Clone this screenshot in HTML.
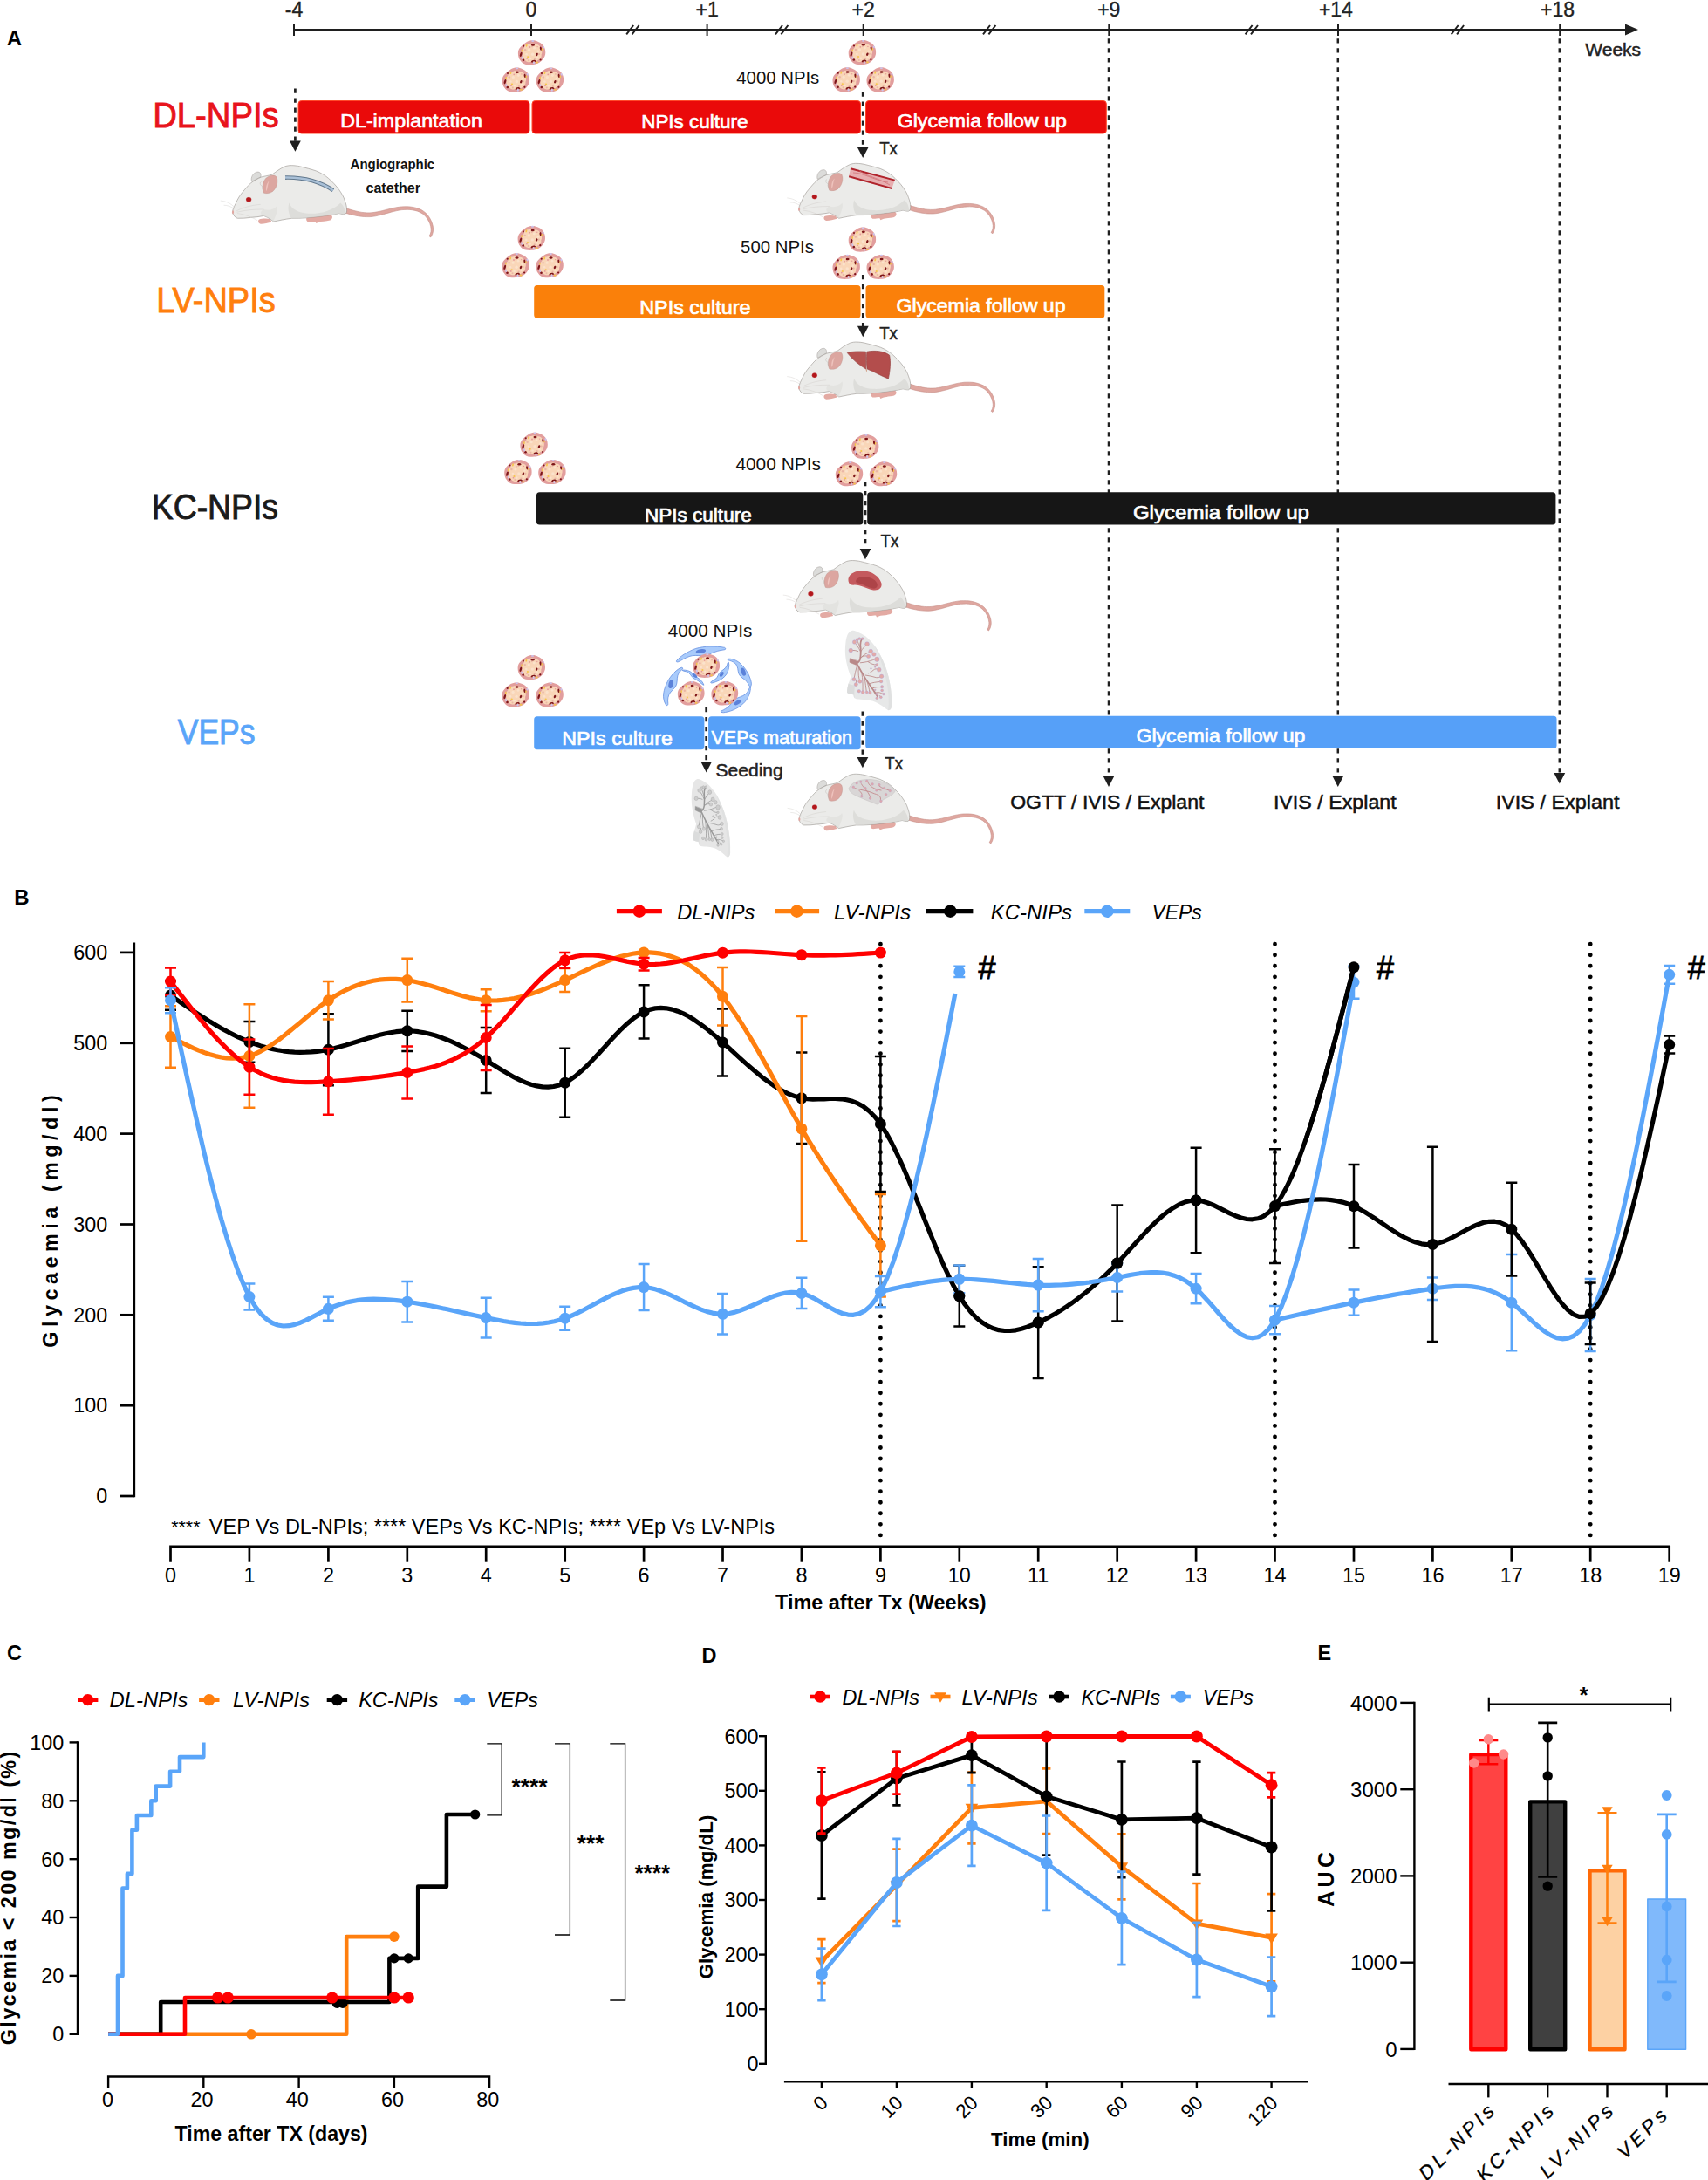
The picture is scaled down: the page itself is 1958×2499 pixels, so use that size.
<!DOCTYPE html>
<html lang="en"><head><meta charset="utf-8"><title>Figure</title>
<style>html,body{margin:0;padding:0;background:#fff}svg{display:block}text{font-family:"Liberation Sans",Arial,Helvetica,sans-serif}.lw{font-weight:bold}.md{stroke:currentColor;stroke-width:0.45px}</style></head><body>
<svg width="1958" height="2499" viewBox="0 0 1958 2499">
<rect width="1958" height="2499" fill="#fff"/>
<defs>
<g id="islet">
<path d="M1.2 -14C-1.5 -14 -3.8 -13.4 -5.6 -12.3C-8.5 -10.6 -11.5 -8 -13.1 -6C-15 -4 -15.8 -1.5 -15.7 1C-15.6 4.5 -14.8 7 -13.1 9C-11.5 11.5 -9.5 13 -6.6 13.7C-4 14.2 -0.5 14.1 1.9 13.9C5.5 13.5 8.3 12.4 10.3 10.4C13 8 14.8 5.5 15.5 2.4C16 -0.5 15.6 -3.5 14.5 -6C13.2 -9 10.5 -11 7.5 -12.3C5.5 -13.4 3.5 -14 1.2 -14Z" fill="#e29e9d"/>
<path d="M-10.8 1.5C-11.6 -2 -10 -4 -8.6 -5.5C-8.8 -8 -6 -9.6 -3.4 -9.6C-1 -11 2.5 -10.6 4 -9.4C7 -9.8 9.6 -7.6 10.2 -5C12 -3 12.2 0.5 11 2.6C11.6 5.5 9.6 8 7.2 8.6C5.5 10.8 2 11.4 0 10.6C-2.6 11.6 -6 11 -7.4 9C-9.8 8.2 -11.4 5 -10.8 1.5Z" fill="#f9d6b8"/>
<g fill="#fbe2cb"><circle cx="-3" cy="-3" r="1.6"/><circle cx="3" cy="-5" r="1.4"/><circle cx="1" cy="2" r="1.7"/><circle cx="-6" cy="2" r="1.3"/><circle cx="6.5" cy="5.5" r="1.3"/><circle cx="-1.5" cy="6.8" r="1.2"/><circle cx="7.4" cy="-1.4" r="1.2"/></g>
<g fill="#eab6a6"><circle cx="-7.5" cy="-3" r="1.2"/><circle cx="8.5" cy="1.8" r="1.1"/><circle cx="3.5" cy="7.5" r="1.1"/><circle cx="-3.6" cy="9" r="1"/><circle cx="0.4" cy="-7" r="1"/></g>
<g fill="#7d1418"><ellipse cx="1.4" cy="-8.8" rx="2" ry="1.25"/><circle cx="-9.4" cy="-7.5" r="1.05"/><ellipse cx="10.3" cy="-4.6" rx="1.05" ry="2.2" transform="rotate(-10 10.3 -4.6)"/><ellipse cx="-12.4" cy="2.2" rx="1.15" ry="2.8" transform="rotate(18 -12.4 2.2)"/><ellipse cx="5.9" cy="2.2" rx="1.15" ry="1.8" transform="rotate(25 5.9 2.2)"/><circle cx="-9.6" cy="8.5" r="1.3"/><circle cx="10" cy="8.3" r="1.1"/><path d="M-0.8 11C-0.2 8 4.7 7.8 5.2 10.2L3.6 10.7C3 9.6 1.6 9.7 1 11.5Z"/></g>
<g fill="#f6c64a"><ellipse cx="-5.9" cy="-8.1" rx="0.9" ry="1.7" transform="rotate(15 -5.9 -8.1)"/><ellipse cx="-11.2" cy="-2.2" rx="0.8" ry="1.6"/><ellipse cx="-4.4" cy="5" rx="1.1" ry="1" /><ellipse cx="11.9" cy="-3.6" rx="0.7" ry="1.4"/><ellipse cx="6.1" cy="11.3" rx="1.3" ry="1"/></g>
<g fill="#cdc5ee"><ellipse cx="1.2" cy="-13.2" rx="1.6" ry="0.9"/><ellipse cx="13.4" cy="-6.2" rx="0.9" ry="1.5" transform="rotate(-30 13.4 -6.2)"/><ellipse cx="-11" cy="6.2" rx="0.9" ry="1.6" transform="rotate(-20 -11 6.2)"/><ellipse cx="2.4" cy="11.9" rx="1" ry="1.3"/></g>
<g fill="#e59a9c"><circle cx="-2.1" cy="-6.2" r="0.9"/><circle cx="-5.4" cy="6.7" r="0.9"/><circle cx="6.5" cy="-6.6" r="0.7"/></g>
</g>
<g id="islets3"><use href="#islet" x="-1.2" y="-31.3"/><use href="#islet" x="-19.4" y="0"/><use href="#islet" x="19.6" y="0"/></g>
<path id="ah" d="M0 0L-6.4 -12.4H6.4Z" fill="#1f1f1f"/>
<g id="mouse">
<path d="M395.5 244.1L398.5 244.9L401.6 245.8L404.7 246.5L407.9 247.2L411.1 247.8L414.3 248.2L417.5 248.5L420.8 248.6L424.1 248.6L427.3 248.3L430.5 247.8L433.7 247.1L436.8 246.4L439.9 245.6L442.9 244.7L445.9 243.9L448.9 243L451.9 242.3L454.9 241.6L457.9 241L460.9 240.6L463.9 240.4L466.9 240.3L469.9 240.4L472.9 240.8L475.9 241.4L478.8 242.2L481.6 243.4L484.1 244.8L486.4 246.6L488.4 248.8L490.2 251.2L491.6 253.8L492.9 256.6L493.7 259.5L494.2 262.4L494.1 265.2L493.4 268L492 270.7L493.8 271.9L495.5 268.8L496.4 265.6L496.6 262.3L496.2 259L495.3 255.8L494.1 252.7L492.5 249.7L490.6 247L488.4 244.5L485.8 242.4L483 240.6L479.9 239.3L476.7 238.2L473.5 237.5L470.3 237L467 236.8L463.8 236.8L460.5 236.9L457.3 237.3L454.2 237.8L451.1 238.4L448 239.2L444.9 239.9L441.8 240.7L438.8 241.5L435.8 242.2L432.8 242.8L429.8 243.3L426.8 243.7L423.9 243.9L420.9 243.9L417.9 243.7L414.9 243.4L411.9 242.9L408.9 242.2L405.9 241.5L403 240.7L400 239.8L397.1 238.9Z" fill="#dfa7a0" stroke="#c58d86" stroke-width="0.6"/>
<g transform="translate(250 180) scale(0.093677)">
<path d="M412 300C395 250 430 190 480 183C515 180 530 205 522 245Z" fill="#dcdcda" stroke="#a8a4a0" stroke-width="6"/>
<path d="M1085 740C1150 720 1300 700 1370 705C1410 715 1405 760 1370 775C1320 790 1260 785 1225 800L1200 812L1190 790C1160 790 1120 800 1100 795C1080 780 1075 760 1085 740Z" fill="#e3aaa3"/>
<path d="M500 765C540 750 600 750 640 760L655 795C610 805 560 822 520 820C490 810 485 780 500 765Z" fill="#e3aaa3"/>
<path d="M180 690C170 660 190 620 215 570C240 510 270 465 300 430C330 395 365 350 400 320C440 290 480 265 530 245C580 232 620 228 660 215C710 180 760 140 820 115C850 105 880 102 900 103C940 104 970 108 1000 115C1070 132 1140 150 1200 170C1260 195 1310 225 1350 260C1400 305 1445 350 1480 400C1515 450 1538 490 1550 530C1565 570 1575 610 1575 640C1578 670 1570 690 1555 700C1530 705 1505 695 1480 690C1440 700 1410 705 1380 710C1280 725 1180 738 1080 745C1020 750 960 750 900 750C820 760 740 778 680 790C665 780 652 770 640 760C615 745 590 730 560 720C505 730 455 738 400 740C345 748 290 752 240 750C215 745 195 725 180 690Z" fill="#ebebe9" stroke="#8f8a85" stroke-width="6"/>
<path d="M870 560C900 640 980 680 1100 690C1250 700 1400 660 1500 560C1540 600 1560 650 1555 695C1530 705 1505 695 1480 690C1300 725 1080 745 900 750C860 700 850 620 870 560Z" fill="#d9d9d6" opacity="0.8"/>
<path d="M560 640C620 660 690 640 720 600C740 650 700 720 680 785C640 755 600 730 560 720C500 700 520 660 560 640Z" fill="#dededb" opacity="0.6"/>
<path d="M182 700C165 690 165 660 185 652C195 665 198 690 182 700Z" fill="#e2a8a2"/>
<path d="M205 620C150 560 90 540 30 535M200 635C150 600 110 590 70 590M225 660C300 620 400 590 520 580M230 675C330 650 430 640 560 640M235 690C330 700 420 740 480 775" fill="none" stroke="#c9c6c2" stroke-width="4"/>
<path d="M560 440C535 390 540 310 585 260C625 225 690 210 715 245C740 300 715 380 670 420C640 445 590 450 560 440Z" fill="#dca6a0" stroke="#b98c86" stroke-width="4"/>
<path d="M590 420C580 370 595 320 625 290C605 340 610 380 590 420Z" fill="#eec3bd"/>
<path d="M530 300C500 320 520 350 545 360C535 380 545 400 560 410" fill="none" stroke="#b0aba6" stroke-width="4"/>
<ellipse cx="375" cy="520" rx="33" ry="29" fill="#b3171c"/><ellipse cx="375" cy="520" rx="33" ry="29" fill="none" stroke="#d98c8c" stroke-width="4" opacity="0.6"/>
</g></g>
</defs>
<g id="mice">
<g transform="translate(950 715) scale(0.05269 0.05269)" opacity="0.92">
<path d="M500 150C530 140 560 145 600 165C680 200 750 235 800 270C880 340 950 410 1000 480C1070 580 1130 690 1180 800C1230 910 1270 1030 1300 1150C1330 1270 1350 1390 1360 1500C1370 1600 1375 1700 1370 1800C1360 1860 1330 1890 1290 1880C1240 1850 1200 1810 1150 1780C1090 1740 1020 1700 950 1680C880 1660 810 1655 750 1650C680 1648 610 1650 560 1620C545 1590 545 1560 540 1540C490 1540 430 1530 400 1500C395 1430 415 1360 430 1300C450 1250 470 1200 480 1150C450 1070 420 990 400 900C380 820 365 730 360 650C355 560 360 480 370 400C380 330 395 270 420 220C440 185 470 160 500 150Z" fill="#e6e7e7"/>
<path d="M430 1300C470 1330 530 1340 580 1330C560 1400 555 1470 560 1620C545 1590 545 1560 540 1540C490 1540 430 1530 400 1500C395 1430 415 1360 430 1300Z" fill="#d9dada"/>
<path d="M1000 480C1070 580 1130 690 1180 800C1230 910 1270 1030 1300 1150C1330 1270 1350 1390 1360 1500C1370 1600 1375 1700 1370 1800C1360 1860 1330 1890 1290 1880C1320 1700 1300 1400 1220 1100C1170 900 1100 700 1000 480Z" fill="#dcdddd" opacity="0.8"/>
<g fill="none" stroke="#b47f7f" stroke-linecap="round" stroke-linejoin="round">
<path d="M460 760L455 840L600 900L650 820Z" fill="#b47f7f" stroke-width="10"/>
<path d="M600 860C650 850 680 800 690 740C700 640 700 560 690 480C685 420 700 370 720 330M620 880C680 990 730 1080 780 1160C830 1240 900 1340 960 1430C1000 1490 1030 1530 1060 1580" stroke-width="34"/>
<path d="M690 600C650 520 620 460 560 410M695 540C660 470 640 410 620 350M700 600C740 540 780 490 830 450M640 600C600 580 550 575 490 580M700 740C750 680 830 640 910 610M720 720C770 690 820 700 860 710M690 850C790 840 880 820 960 790C1000 770 1030 770 1050 775M860 830C920 870 980 900 1040 890M870 1080C930 1060 960 1010 1000 990C1040 975 1070 990 1090 1000M800 1120C880 1130 960 1150 1030 1170C1080 1180 1110 1160 1140 1150M900 1300C960 1280 1030 1270 1130 1260M960 1400C1020 1380 1080 1370 1150 1380M1020 1500C1080 1480 1130 1500 1190 1530M620 900C590 1000 570 1100 550 1200M650 960C640 1080 650 1180 680 1250M720 1080C740 1200 745 1330 740 1460M780 1180C800 1290 810 1380 820 1470M830 1250C860 1330 880 1410 890 1480M600 1240C600 1270 600 1290 600 1320M1060 1580C1060 1600 1055 1610 1050 1620M1100 1560C1120 1580 1130 1590 1135 1600" stroke-width="16"/>
</g>
<circle cx="560" cy="400" r="42" fill="#e2a3a0" stroke="#a59ad6" stroke-width="8"/>
<circle cx="620" cy="345" r="30" fill="#e2a3a0" stroke="#a59ad6" stroke-width="8"/>
<circle cx="670" cy="325" r="28" fill="#e2a3a0" stroke="#a59ad6" stroke-width="8"/>
<circle cx="735" cy="325" r="28" fill="#e2a3a0" stroke="#a59ad6" stroke-width="8"/>
<circle cx="835" cy="440" r="46" fill="#e2a3a0" stroke="#a59ad6" stroke-width="8"/>
<circle cx="480" cy="580" r="44" fill="#e2a3a0" stroke="#a59ad6" stroke-width="8"/>
<circle cx="915" cy="600" r="46" fill="#e2a3a0" stroke="#a59ad6" stroke-width="8"/>
<circle cx="985" cy="665" r="44" fill="#e2a3a0" stroke="#a59ad6" stroke-width="8"/>
<circle cx="865" cy="710" r="40" fill="#e2a3a0" stroke="#a59ad6" stroke-width="8"/>
<circle cx="1050" cy="775" r="52" fill="#e2a3a0" stroke="#a59ad6" stroke-width="8"/>
<circle cx="1050" cy="890" r="26" fill="#e2a3a0" stroke="#a59ad6" stroke-width="8"/>
<circle cx="1095" cy="1000" r="46" fill="#e2a3a0" stroke="#a59ad6" stroke-width="8"/>
<circle cx="1150" cy="1145" r="42" fill="#e2a3a0" stroke="#a59ad6" stroke-width="8"/>
<circle cx="1140" cy="1255" r="34" fill="#e2a3a0" stroke="#a59ad6" stroke-width="8"/>
<circle cx="1160" cy="1370" r="30" fill="#e2a3a0" stroke="#a59ad6" stroke-width="8"/>
<circle cx="1160" cy="1450" r="28" fill="#e2a3a0" stroke="#a59ad6" stroke-width="8"/>
<circle cx="1195" cy="1530" r="26" fill="#e2a3a0" stroke="#a59ad6" stroke-width="8"/>
<circle cx="1135" cy="1600" r="28" fill="#e2a3a0" stroke="#a59ad6" stroke-width="8"/>
<circle cx="1050" cy="1620" r="28" fill="#e2a3a0" stroke="#a59ad6" stroke-width="8"/>
<circle cx="550" cy="1210" r="40" fill="#e2a3a0" stroke="#a59ad6" stroke-width="8"/>
<circle cx="680" cy="1255" r="40" fill="#e2a3a0" stroke="#a59ad6" stroke-width="8"/>
<circle cx="595" cy="1320" r="40" fill="#e2a3a0" stroke="#a59ad6" stroke-width="8"/>
<circle cx="660" cy="1465" r="34" fill="#e2a3a0" stroke="#a59ad6" stroke-width="8"/>
<circle cx="745" cy="1490" r="36" fill="#e2a3a0" stroke="#a59ad6" stroke-width="8"/>
<circle cx="830" cy="1490" r="28" fill="#e2a3a0" stroke="#a59ad6" stroke-width="8"/>
<circle cx="900" cy="1500" r="34" fill="#e2a3a0" stroke="#a59ad6" stroke-width="8"/>
<circle cx="1050" cy="1530" r="24" fill="#e2a3a0" stroke="#a59ad6" stroke-width="8"/>
<circle cx="1010" cy="1440" r="18" fill="#e2a3a0" stroke="#a59ad6" stroke-width="8"/>
<circle cx="920" cy="975" r="16" fill="#e2a3a0" stroke="#a59ad6" stroke-width="8"/>
<circle cx="1010" cy="940" r="16" fill="#e2a3a0" stroke="#a59ad6" stroke-width="8"/>
</g>
<g transform="translate(777.1 885.5) scale(0.04376 0.05148)" opacity="0.92">
<path d="M500 150C530 140 560 145 600 165C680 200 750 235 800 270C880 340 950 410 1000 480C1070 580 1130 690 1180 800C1230 910 1270 1030 1300 1150C1330 1270 1350 1390 1360 1500C1370 1600 1375 1700 1370 1800C1360 1860 1330 1890 1290 1880C1240 1850 1200 1810 1150 1780C1090 1740 1020 1700 950 1680C880 1660 810 1655 750 1650C680 1648 610 1650 560 1620C545 1590 545 1560 540 1540C490 1540 430 1530 400 1500C395 1430 415 1360 430 1300C450 1250 470 1200 480 1150C450 1070 420 990 400 900C380 820 365 730 360 650C355 560 360 480 370 400C380 330 395 270 420 220C440 185 470 160 500 150Z" fill="#e4e4e4"/>
<path d="M430 1300C470 1330 530 1340 580 1330C560 1400 555 1470 560 1620C545 1590 545 1560 540 1540C490 1540 430 1530 400 1500C395 1430 415 1360 430 1300Z" fill="#d9dada"/>
<path d="M1000 480C1070 580 1130 690 1180 800C1230 910 1270 1030 1300 1150C1330 1270 1350 1390 1360 1500C1370 1600 1375 1700 1370 1800C1360 1860 1330 1890 1290 1880C1320 1700 1300 1400 1220 1100C1170 900 1100 700 1000 480Z" fill="#dcdddd" opacity="0.8"/>
<g fill="none" stroke="#8f8f8f" stroke-linecap="round" stroke-linejoin="round">
<path d="M460 760L455 840L600 900L650 820Z" fill="#8f8f8f" stroke-width="10"/>
<path d="M600 860C650 850 680 800 690 740C700 640 700 560 690 480C685 420 700 370 720 330M620 880C680 990 730 1080 780 1160C830 1240 900 1340 960 1430C1000 1490 1030 1530 1060 1580" stroke-width="34"/>
<path d="M690 600C650 520 620 460 560 410M695 540C660 470 640 410 620 350M700 600C740 540 780 490 830 450M640 600C600 580 550 575 490 580M700 740C750 680 830 640 910 610M720 720C770 690 820 700 860 710M690 850C790 840 880 820 960 790C1000 770 1030 770 1050 775M860 830C920 870 980 900 1040 890M870 1080C930 1060 960 1010 1000 990C1040 975 1070 990 1090 1000M800 1120C880 1130 960 1150 1030 1170C1080 1180 1110 1160 1140 1150M900 1300C960 1280 1030 1270 1130 1260M960 1400C1020 1380 1080 1370 1150 1380M1020 1500C1080 1480 1130 1500 1190 1530M620 900C590 1000 570 1100 550 1200M650 960C640 1080 650 1180 680 1250M720 1080C740 1200 745 1330 740 1460M780 1180C800 1290 810 1380 820 1470M830 1250C860 1330 880 1410 890 1480M600 1240C600 1270 600 1290 600 1320M1060 1580C1060 1600 1055 1610 1050 1620M1100 1560C1120 1580 1130 1590 1135 1600" stroke-width="16"/>
</g>
<circle cx="560" cy="400" r="42" fill="#c9c9c9" stroke="#9a9a9a" stroke-width="8"/>
<circle cx="620" cy="345" r="30" fill="#c9c9c9" stroke="#9a9a9a" stroke-width="8"/>
<circle cx="670" cy="325" r="28" fill="#c9c9c9" stroke="#9a9a9a" stroke-width="8"/>
<circle cx="735" cy="325" r="28" fill="#c9c9c9" stroke="#9a9a9a" stroke-width="8"/>
<circle cx="835" cy="440" r="46" fill="#c9c9c9" stroke="#9a9a9a" stroke-width="8"/>
<circle cx="480" cy="580" r="44" fill="#c9c9c9" stroke="#9a9a9a" stroke-width="8"/>
<circle cx="915" cy="600" r="46" fill="#c9c9c9" stroke="#9a9a9a" stroke-width="8"/>
<circle cx="985" cy="665" r="44" fill="#c9c9c9" stroke="#9a9a9a" stroke-width="8"/>
<circle cx="865" cy="710" r="40" fill="#c9c9c9" stroke="#9a9a9a" stroke-width="8"/>
<circle cx="1050" cy="775" r="52" fill="#c9c9c9" stroke="#9a9a9a" stroke-width="8"/>
<circle cx="1050" cy="890" r="26" fill="#c9c9c9" stroke="#9a9a9a" stroke-width="8"/>
<circle cx="1095" cy="1000" r="46" fill="#c9c9c9" stroke="#9a9a9a" stroke-width="8"/>
<circle cx="1150" cy="1145" r="42" fill="#c9c9c9" stroke="#9a9a9a" stroke-width="8"/>
<circle cx="1140" cy="1255" r="34" fill="#c9c9c9" stroke="#9a9a9a" stroke-width="8"/>
<circle cx="1160" cy="1370" r="30" fill="#c9c9c9" stroke="#9a9a9a" stroke-width="8"/>
<circle cx="1160" cy="1450" r="28" fill="#c9c9c9" stroke="#9a9a9a" stroke-width="8"/>
<circle cx="1195" cy="1530" r="26" fill="#c9c9c9" stroke="#9a9a9a" stroke-width="8"/>
<circle cx="1135" cy="1600" r="28" fill="#c9c9c9" stroke="#9a9a9a" stroke-width="8"/>
<circle cx="1050" cy="1620" r="28" fill="#c9c9c9" stroke="#9a9a9a" stroke-width="8"/>
<circle cx="550" cy="1210" r="40" fill="#c9c9c9" stroke="#9a9a9a" stroke-width="8"/>
<circle cx="680" cy="1255" r="40" fill="#c9c9c9" stroke="#9a9a9a" stroke-width="8"/>
<circle cx="595" cy="1320" r="40" fill="#c9c9c9" stroke="#9a9a9a" stroke-width="8"/>
<circle cx="660" cy="1465" r="34" fill="#c9c9c9" stroke="#9a9a9a" stroke-width="8"/>
<circle cx="745" cy="1490" r="36" fill="#c9c9c9" stroke="#9a9a9a" stroke-width="8"/>
<circle cx="830" cy="1490" r="28" fill="#c9c9c9" stroke="#9a9a9a" stroke-width="8"/>
<circle cx="900" cy="1500" r="34" fill="#c9c9c9" stroke="#9a9a9a" stroke-width="8"/>
<circle cx="1050" cy="1530" r="24" fill="#c9c9c9" stroke="#9a9a9a" stroke-width="8"/>
<circle cx="1010" cy="1440" r="18" fill="#c9c9c9" stroke="#9a9a9a" stroke-width="8"/>
<circle cx="920" cy="975" r="16" fill="#c9c9c9" stroke="#9a9a9a" stroke-width="8"/>
<circle cx="1010" cy="940" r="16" fill="#c9c9c9" stroke="#9a9a9a" stroke-width="8"/>
</g>
<g transform="translate(750 735) scale(0.070259)" fill="#a9cbfb" stroke="#6a94e2" stroke-width="12">
<path d="M362 322C420 250 540 170 680 120C820 80 1000 75 1150 105C1175 120 1165 140 1140 140C1060 150 990 170 930 200C880 225 840 240 780 240C700 235 640 225 570 250C500 275 450 310 400 335C375 345 355 340 362 322Z"/>
<path d="M445 432C380 450 300 530 240 620C180 720 150 820 150 900C152 960 170 1010 195 1045C215 1055 228 1040 225 1015C215 950 225 890 260 840C300 790 350 760 365 700C380 640 365 580 400 520C420 490 445 470 462 455C470 440 460 428 445 432Z"/>
<path d="M455 470C520 470 580 480 620 520C650 560 700 590 740 620C780 650 800 690 810 715C790 715 760 680 720 650C680 625 640 610 615 580C590 540 560 510 520 495C490 488 460 485 455 470Z"/>
<path d="M1215 345C1230 400 1215 470 1185 530C1150 590 1080 640 1000 665C960 680 930 690 920 675C925 655 970 640 1010 610C1040 580 1040 540 1080 500C1120 470 1160 450 1185 400C1195 375 1190 345 1215 345Z"/>
<path d="M1200 290C1260 280 1340 310 1400 360C1470 420 1540 520 1570 620C1590 680 1590 720 1570 745C1550 740 1540 700 1510 660C1470 610 1400 590 1380 530C1360 470 1370 420 1330 370C1290 330 1240 320 1205 310C1195 305 1190 295 1200 290Z"/>
<path d="M1572 745C1575 820 1540 920 1480 990C1400 1080 1280 1140 1160 1160C1110 1168 1080 1160 1090 1140C1140 1120 1190 1090 1230 1050C1270 1000 1290 960 1350 930C1420 900 1480 890 1520 830C1545 790 1550 760 1572 745Z"/>
<g fill="#5b82da" stroke="none"><ellipse cx="760" cy="165" rx="82" ry="34" transform="rotate(-8 760 165)"/><ellipse cx="272" cy="700" rx="38" ry="70" transform="rotate(12 272 700)"/><ellipse cx="660" cy="560" rx="48" ry="24" transform="rotate(38 660 560)"/><ellipse cx="1100" cy="540" rx="26" ry="46" transform="rotate(35 1100 540)"/><ellipse cx="1452" cy="500" rx="36" ry="68" transform="rotate(-22 1452 500)"/><ellipse cx="1360" cy="1000" rx="62" ry="32" transform="rotate(-35 1360 1000)"/></g>
</g>
<use href="#islet" x="0" y="0" transform="translate(809.7 763.1) scale(0.98)"/>
<use href="#islet" x="0" y="0" transform="translate(792.2 794.7) scale(0.98)"/>
<use href="#islet" x="0" y="0" transform="translate(830.8 794.7) scale(0.98)"/>
<use href="#mouse"/>
<path d="M327 203.6C346 203.2 365 207 381.9 218.2" fill="none" stroke="#62788d" stroke-width="4.6"/>
<path d="M327 203.6C346 203.2 365 207 381.9 218.2" fill="none" stroke="#a9c0d7" stroke-width="2.5"/>
<use href="#mouse" transform="translate(916.0 240.2) scale(0.978) translate(-266.9 -243.7)"/>
<path d="M975.2 192.6L1025.9 206L1022.2 216.6L972.9 202.8Z" fill="#e7aeb0"/>
<path d="M975 193.2L1025.7 206.6M973.2 202.2L1022.4 216" stroke="#b0242c" stroke-width="2" fill="none"/>
<path d="M978 198C990 198 1000 206 1018 209M985 195.6C995 203 1005 203 1020 212" stroke="#cf6e74" stroke-width="0.7" fill="none"/>
<use href="#mouse" transform="translate(916.0 444.9) scale(0.978) translate(-266.9 -243.7)"/>
<g transform="translate(880 250) scale(0.175655)">
<path d="M520 880C555 868 600 870 640 872L642 985C600 960 555 925 520 880Z" fill="#b55250" stroke="#974240" stroke-width="4"/>
<path d="M648 872C700 862 760 868 795 895C805 940 798 1000 788 1048C740 1030 690 1000 650 985C645 950 645 910 648 872Z" fill="#b34d4c" stroke="#974240" stroke-width="4"/>
<path d="M644 985L646 1000" stroke="#c98a6a" stroke-width="5" fill="none"/>
</g>
<use href="#mouse" transform="translate(911.6 695.4) scale(0.978) translate(-266.9 -243.7)"/>
<g transform="translate(880 480) scale(0.175655)">
<path d="M527 1060C520 1020 560 995 610 992C680 990 730 1030 743 1075C748 1110 720 1122 690 1118C640 1110 610 1085 570 1085C545 1088 530 1080 527 1060Z" fill="#c45a5e"/>
<path d="M590 1040C620 1025 670 1030 700 1055C725 1080 720 1105 695 1108C650 1105 620 1075 585 1072C570 1065 575 1048 590 1040Z" fill="#ad4448"/>
</g>
<use href="#mouse" transform="translate(916.3 939.6) scale(0.968) translate(-266.9 -243.7)"/>
<g transform="translate(740 700) scale(0.2576)">
<path d="M905 790C920 760 960 748 1010 752C1060 758 1100 780 1112 800C1105 820 1080 830 1060 840C1045 850 1040 862 1030 862C1000 850 960 835 930 820C915 812 905 802 905 790Z" fill="#d9d6d6" stroke="#c4c0c0" stroke-width="2"/>
<path d="M930 790C960 800 990 800 1020 815M960 770C970 790 990 800 1000 830M990 765C1000 785 1020 795 1050 800M1020 815C1040 820 1050 830 1045 845M950 800C960 810 965 815 962 822M1040 780C1050 790 1070 795 1085 800" fill="none" stroke="#c48b8f" stroke-width="3.5"/>
<circle cx="925" cy="785" r="5" fill="#e2a8aa" stroke="#b99ac6" stroke-width="1.5"/>
<circle cx="940" cy="768" r="5" fill="#e2a8aa" stroke="#b99ac6" stroke-width="1.5"/>
<circle cx="958" cy="762" r="5" fill="#e2a8aa" stroke="#b99ac6" stroke-width="1.5"/>
<circle cx="985" cy="758" r="5" fill="#e2a8aa" stroke="#b99ac6" stroke-width="1.5"/>
<circle cx="1010" cy="772" r="5" fill="#e2a8aa" stroke="#b99ac6" stroke-width="1.5"/>
<circle cx="1040" cy="775" r="5" fill="#e2a8aa" stroke="#b99ac6" stroke-width="1.5"/>
<circle cx="1062" cy="790" r="5" fill="#e2a8aa" stroke="#b99ac6" stroke-width="1.5"/>
<circle cx="1088" cy="802" r="5" fill="#e2a8aa" stroke="#b99ac6" stroke-width="1.5"/>
<circle cx="1070" cy="818" r="5" fill="#e2a8aa" stroke="#b99ac6" stroke-width="1.5"/>
<circle cx="1048" cy="848" r="5" fill="#e2a8aa" stroke="#b99ac6" stroke-width="1.5"/>
<circle cx="1000" cy="835" r="5" fill="#e2a8aa" stroke="#b99ac6" stroke-width="1.5"/>
<circle cx="962" cy="826" r="5" fill="#e2a8aa" stroke="#b99ac6" stroke-width="1.5"/>
<circle cx="978" cy="790" r="5" fill="#e2a8aa" stroke="#b99ac6" stroke-width="1.5"/>
<circle cx="1028" cy="800" r="5" fill="#e2a8aa" stroke="#b99ac6" stroke-width="1.5"/>
</g>
</g>
<g id="panelA">
<text x="8" y="52" font-size="23.5" font-weight="bold">A</text>
<path d="M337 34H1866" stroke="#1f1f1f" stroke-width="2" fill="none"/>
<path d="M1878 34L1863 27.5V40.5Z" fill="#1f1f1f"/>
<line x1="337" y1="27" x2="337" y2="41" stroke="#1f1f1f" stroke-width="2" />
<text x="337" y="18.5" font-size="23" text-anchor="middle" fill="#222" stroke="#222" stroke-width="0.35">-4</text>
<line x1="609" y1="27" x2="609" y2="41" stroke="#1f1f1f" stroke-width="2" />
<text x="609" y="18.5" font-size="23" text-anchor="middle" fill="#222" stroke="#222" stroke-width="0.35">0</text>
<line x1="810.6" y1="27" x2="810.6" y2="41" stroke="#1f1f1f" stroke-width="2" />
<text x="810.6" y="18.5" font-size="23" text-anchor="middle" fill="#222" stroke="#222" stroke-width="0.35">+1</text>
<line x1="989.7" y1="27" x2="989.7" y2="41" stroke="#1f1f1f" stroke-width="2" />
<text x="989.7" y="18.5" font-size="23" text-anchor="middle" fill="#222" stroke="#222" stroke-width="0.35">+2</text>
<line x1="1271.3" y1="27" x2="1271.3" y2="41" stroke="#1f1f1f" stroke-width="2" />
<text x="1271.3" y="18.5" font-size="23" text-anchor="middle" fill="#222" stroke="#222" stroke-width="0.35">+9</text>
<line x1="1534" y1="27" x2="1534" y2="41" stroke="#1f1f1f" stroke-width="2" />
<text x="1531.4" y="18.5" font-size="23" text-anchor="middle" fill="#222" stroke="#222" stroke-width="0.35">+14</text>
<line x1="1788.2" y1="27" x2="1788.2" y2="41" stroke="#1f1f1f" stroke-width="2" />
<text x="1785.6" y="18.5" font-size="23" text-anchor="middle" fill="#222" stroke="#222" stroke-width="0.35">+18</text>
<path d="M718.2 39.4l8 -10.4M724.6 39.4l8 -10.4" stroke="#1f1f1f" stroke-width="2" fill="none"/>
<path d="M889 39.4l8 -10.4M895.4 39.4l8 -10.4" stroke="#1f1f1f" stroke-width="2" fill="none"/>
<path d="M1127 39.4l8 -10.4M1133.4 39.4l8 -10.4" stroke="#1f1f1f" stroke-width="2" fill="none"/>
<path d="M1427.6 39.4l8 -10.4M1434 39.4l8 -10.4" stroke="#1f1f1f" stroke-width="2" fill="none"/>
<path d="M1663.7 39.4l8 -10.4M1670.1 39.4l8 -10.4" stroke="#1f1f1f" stroke-width="2" fill="none"/>
<text x="1817.3" y="63.8" font-size="21" fill="#222" textLength="63.8" lengthAdjust="spacingAndGlyphs" stroke="#222" stroke-width="0.5">Weeks</text>
<line x1="1271" y1="44.3" x2="1271" y2="890" stroke="#1f1f1f" stroke-width="2.5" stroke-dasharray="5.3 5.7"/>
<use href="#ah" x="1271" y="902"/>
<line x1="1533.8" y1="44.3" x2="1533.8" y2="890" stroke="#1f1f1f" stroke-width="2.5" stroke-dasharray="5.3 5.7"/>
<use href="#ah" x="1533.8" y="902"/>
<line x1="1787.8" y1="44.3" x2="1787.8" y2="886.5" stroke="#1f1f1f" stroke-width="2.5" stroke-dasharray="5.3 5.7"/>
<use href="#ah" x="1787.8" y="898.5"/>
<text x="175.2" y="145.7" font-size="40" fill="#e8141c" textLength="144.5" lengthAdjust="spacingAndGlyphs" stroke="#e8141c" stroke-width="0.9">DL-NPIs</text>
<text x="179.2" y="358.3" font-size="40" fill="#ff7f0e" textLength="136.5" lengthAdjust="spacingAndGlyphs" stroke="#ff7f0e" stroke-width="0.9">LV-NPIs</text>
<text x="173.8" y="594.7" font-size="40" fill="#1a1a1a" textLength="145.2" lengthAdjust="spacingAndGlyphs" stroke="#1a1a1a" stroke-width="0.9">KC-NPIs</text>
<text x="203.7" y="852.9" font-size="40" fill="#5aa5f9" textLength="88.9" lengthAdjust="spacingAndGlyphs" stroke="#5aa5f9" stroke-width="0.9">VEPs</text>
<line x1="338.4" y1="101.5" x2="338.4" y2="161.8" stroke="#1f1f1f" stroke-width="2.7" stroke-dasharray="5.3 5.7"/>
<use href="#ah" x="338.4" y="173.8"/>
<line x1="989.2" y1="105.5" x2="989.2" y2="169.1" stroke="#1f1f1f" stroke-width="2.7" stroke-dasharray="5.3 5.7"/>
<use href="#ah" x="989.2" y="181.1"/>
<rect x="342" y="115.5" width="265" height="37.5" rx="3.5" fill="#ea0a0a" stroke="#ff4a2a" stroke-width="1"/>
<rect x="610" y="115.5" width="376.5" height="37.5" rx="3.5" fill="#ea0a0a" stroke="#ff4a2a" stroke-width="1"/>
<rect x="992.5" y="115.5" width="275.8" height="37.5" rx="3.5" fill="#ea0a0a" stroke="#ff4a2a" stroke-width="1"/>
<text x="390.2" y="146.2" font-size="22" fill="#fff" textLength="162.7" lengthAdjust="spacingAndGlyphs" stroke="#fff" stroke-width="0.7">DL-implantation</text>
<text x="735.2" y="147.3" font-size="22" fill="#fff" textLength="122.2" lengthAdjust="spacingAndGlyphs" stroke="#fff" stroke-width="0.7">NPIs culture</text>
<text x="1028.7" y="146" font-size="22" fill="#fff" textLength="194.1" lengthAdjust="spacingAndGlyphs" stroke="#fff" stroke-width="0.7">Glycemia follow up</text>
<text x="844.3" y="95.5" font-size="21" fill="#111" textLength="95" lengthAdjust="spacingAndGlyphs">4000 NPIs</text>
<text x="1008.2" y="177" font-size="20.5" fill="#222" textLength="20.8" lengthAdjust="spacingAndGlyphs" stroke="#222" stroke-width="0.5">Tx</text>
<use href="#islets3" x="610.8" y="91.5"/>
<use href="#islets3" x="989.6" y="91.3"/>
<text x="401.6" y="194.3" font-size="16" font-weight="bold" fill="#111" textLength="96.6" lengthAdjust="spacingAndGlyphs">Angiographic</text>
<text x="419.5" y="220.6" font-size="16" font-weight="bold" fill="#111" textLength="62.5" lengthAdjust="spacingAndGlyphs">catether</text>
<line x1="989.3" y1="315" x2="989.3" y2="374.2" stroke="#1f1f1f" stroke-width="2.7" stroke-dasharray="5.3 5.7"/>
<use href="#ah" x="989.3" y="386.2"/>
<rect x="612.2" y="327" width="374.3" height="37.6" rx="3.5" fill="#fa800a"/>
<rect x="992.5" y="327" width="273.8" height="37.6" rx="3.5" fill="#fa800a"/>
<text x="733.2" y="360.3" font-size="22" fill="#fff" textLength="127.4" lengthAdjust="spacingAndGlyphs" stroke="#fff" stroke-width="0.7">NPIs culture</text>
<text x="1027.5" y="357.9" font-size="22" fill="#fff" textLength="194.1" lengthAdjust="spacingAndGlyphs" stroke="#fff" stroke-width="0.7">Glycemia follow up</text>
<text x="849.1" y="289.7" font-size="21" fill="#111" textLength="83.8" lengthAdjust="spacingAndGlyphs">500 NPIs</text>
<text x="1008.2" y="389.1" font-size="20.5" fill="#222" textLength="20.8" lengthAdjust="spacingAndGlyphs" stroke="#222" stroke-width="0.5">Tx</text>
<use href="#islets3" x="610.5" y="304.2"/>
<use href="#islets3" x="989.6" y="305.9"/>
<line x1="992" y1="552" x2="992" y2="629.3" stroke="#1f1f1f" stroke-width="2.7" stroke-dasharray="5.3 5.7"/>
<use href="#ah" x="992" y="641.3"/>
<rect x="615" y="564.2" width="374.3" height="37.4" rx="3.5" fill="#161616"/>
<rect x="994.2" y="564.2" width="789.2" height="37.4" rx="3.5" fill="#161616"/>
<text x="739" y="597.6" font-size="22" fill="#fff" textLength="122.7" lengthAdjust="spacingAndGlyphs" stroke="#fff" stroke-width="0.7">NPIs culture</text>
<text x="1298.9" y="594.5" font-size="22" fill="#fff" textLength="202.1" lengthAdjust="spacingAndGlyphs" stroke="#fff" stroke-width="0.7">Glycemia follow up</text>
<text x="843.4" y="538.5" font-size="21" fill="#111" textLength="97.5" lengthAdjust="spacingAndGlyphs">4000 NPIs</text>
<text x="1009.6" y="627.2" font-size="20.5" fill="#222" textLength="20.8" lengthAdjust="spacingAndGlyphs" stroke="#222" stroke-width="0.5">Tx</text>
<use href="#islets3" x="613.3" y="541"/>
<use href="#islets3" x="992.9" y="543.2"/>
<rect x="612.2" y="821.2" width="195.2" height="38" rx="3.5" fill="#56a0f8"/>
<rect x="812.1" y="821.2" width="174.5" height="38" rx="3.5" fill="#56a0f8"/>
<rect x="992.2" y="820.7" width="792.3" height="37.3" rx="3.5" fill="#56a0f8"/>
<line x1="809.7" y1="811" x2="809.7" y2="873.5" stroke="#1f1f1f" stroke-width="2.7" stroke-dasharray="5.3 5.7"/>
<use href="#ah" x="809.7" y="885.5"/>
<line x1="988.9" y1="815.5" x2="988.9" y2="868.3" stroke="#1f1f1f" stroke-width="2.7" stroke-dasharray="5.3 5.7"/>
<use href="#ah" x="988.9" y="880.3"/>
<text x="644.3" y="854" font-size="22" fill="#fff" textLength="126.7" lengthAdjust="spacingAndGlyphs" stroke="#fff" stroke-width="0.7">NPIs culture</text>
<text x="815.5" y="852.5" font-size="22" fill="#fff" textLength="161.5" lengthAdjust="spacingAndGlyphs" stroke="#fff" stroke-width="0.7">VEPs maturation</text>
<text x="1302.4" y="851" font-size="22" fill="#fff" textLength="194.1" lengthAdjust="spacingAndGlyphs" stroke="#fff" stroke-width="0.7">Glycemia follow up</text>
<text x="765.8" y="730.1" font-size="21" fill="#111" textLength="96.6" lengthAdjust="spacingAndGlyphs">4000 NPIs</text>
<text x="820.6" y="890" font-size="21" fill="#222" textLength="77.1" lengthAdjust="spacingAndGlyphs" stroke="#222" stroke-width="0.5">Seeding</text>
<text x="1014.3" y="882.4" font-size="20.5" fill="#222" textLength="20.8" lengthAdjust="spacingAndGlyphs" stroke="#222" stroke-width="0.5">Tx</text>
<use href="#islets3" x="610.5" y="796.4"/>
<text x="1158.2" y="927" font-size="22" fill="#111" textLength="222.2" lengthAdjust="spacingAndGlyphs" stroke="#111" stroke-width="0.5">OGTT / IVIS / Explant</text>
<text x="1459.9" y="927" font-size="22" fill="#111" textLength="140.8" lengthAdjust="spacingAndGlyphs" stroke="#111" stroke-width="0.5">IVIS / Explant</text>
<text x="1714.7" y="927" font-size="22" fill="#111" textLength="141.8" lengthAdjust="spacingAndGlyphs" stroke="#111" stroke-width="0.5">IVIS / Explant</text>
</g>
<g id="panelB">
<text x="16.2" y="1037.2" font-size="24" font-weight="bold">B</text>
<line x1="706.9" y1="1044.7" x2="758.9" y2="1044.7" stroke="#ff0000" stroke-width="5.2" />
<circle cx="732.9" cy="1044.7" r="7.2" fill="#ff0000"/>
<text x="776.2" y="1053.6" font-size="23.6" font-style="italic" textLength="89.2" lengthAdjust="spacingAndGlyphs">DL-NIPs</text>
<line x1="888" y1="1044.7" x2="939.1" y2="1044.7" stroke="#ff7f0e" stroke-width="5.2" />
<circle cx="913.5" cy="1044.7" r="7.2" fill="#ff7f0e"/>
<text x="956" y="1053.6" font-size="23.6" font-style="italic" textLength="88" lengthAdjust="spacingAndGlyphs">LV-NPIs</text>
<line x1="1061.3" y1="1044.7" x2="1115.4" y2="1044.7" stroke="#000000" stroke-width="5.2" />
<circle cx="1089.4" cy="1044.7" r="7.2" fill="#000000"/>
<text x="1135.8" y="1053.6" font-size="23.6" font-style="italic" textLength="93.2" lengthAdjust="spacingAndGlyphs">KC-NIPs</text>
<line x1="1243.3" y1="1044.7" x2="1295.3" y2="1044.7" stroke="#5aa5f9" stroke-width="5.2" />
<circle cx="1269.3" cy="1044.7" r="7.2" fill="#5aa5f9"/>
<text x="1320.4" y="1053.6" font-size="23.6" font-style="italic" textLength="57.2" lengthAdjust="spacingAndGlyphs">VEPs</text>
<path d="M153.8 1080.6V1716.3" stroke="#000" stroke-width="2.7" fill="none"/>
<line x1="137" y1="1715" x2="153.8" y2="1715" stroke="#000" stroke-width="2.7" />
<text x="123.3" y="1723.2" font-size="23.4" text-anchor="end">0</text>
<line x1="137" y1="1611.2" x2="153.8" y2="1611.2" stroke="#000" stroke-width="2.7" />
<text x="123.3" y="1619.4" font-size="23.4" text-anchor="end">100</text>
<line x1="137" y1="1507.3" x2="153.8" y2="1507.3" stroke="#000" stroke-width="2.7" />
<text x="123.3" y="1515.5" font-size="23.4" text-anchor="end">200</text>
<line x1="137" y1="1403.5" x2="153.8" y2="1403.5" stroke="#000" stroke-width="2.7" />
<text x="123.3" y="1411.7" font-size="23.4" text-anchor="end">300</text>
<line x1="137" y1="1299.6" x2="153.8" y2="1299.6" stroke="#000" stroke-width="2.7" />
<text x="123.3" y="1307.8" font-size="23.4" text-anchor="end">400</text>
<line x1="137" y1="1195.8" x2="153.8" y2="1195.8" stroke="#000" stroke-width="2.7" />
<text x="123.3" y="1204" font-size="23.4" text-anchor="end">500</text>
<line x1="137" y1="1091.9" x2="153.8" y2="1091.9" stroke="#000" stroke-width="2.7" />
<text x="123.3" y="1100.1" font-size="23.4" text-anchor="end">600</text>
<path d="M195.5 1789.7V1772.8H1913.7V1789.7" stroke="#000" stroke-width="2.7" fill="none"/>
<text x="195.5" y="1813.8" font-size="23.4" text-anchor="middle">0</text>
<line x1="285.9" y1="1772.8" x2="285.9" y2="1789.7" stroke="#000" stroke-width="2.7" />
<text x="285.9" y="1813.8" font-size="23.4" text-anchor="middle">1</text>
<line x1="376.4" y1="1772.8" x2="376.4" y2="1789.7" stroke="#000" stroke-width="2.7" />
<text x="376.4" y="1813.8" font-size="23.4" text-anchor="middle">2</text>
<line x1="466.8" y1="1772.8" x2="466.8" y2="1789.7" stroke="#000" stroke-width="2.7" />
<text x="466.8" y="1813.8" font-size="23.4" text-anchor="middle">3</text>
<line x1="557.2" y1="1772.8" x2="557.2" y2="1789.7" stroke="#000" stroke-width="2.7" />
<text x="557.2" y="1813.8" font-size="23.4" text-anchor="middle">4</text>
<line x1="647.7" y1="1772.8" x2="647.7" y2="1789.7" stroke="#000" stroke-width="2.7" />
<text x="647.7" y="1813.8" font-size="23.4" text-anchor="middle">5</text>
<line x1="738.1" y1="1772.8" x2="738.1" y2="1789.7" stroke="#000" stroke-width="2.7" />
<text x="738.1" y="1813.8" font-size="23.4" text-anchor="middle">6</text>
<line x1="828.5" y1="1772.8" x2="828.5" y2="1789.7" stroke="#000" stroke-width="2.7" />
<text x="828.5" y="1813.8" font-size="23.4" text-anchor="middle">7</text>
<line x1="918.9" y1="1772.8" x2="918.9" y2="1789.7" stroke="#000" stroke-width="2.7" />
<text x="918.9" y="1813.8" font-size="23.4" text-anchor="middle">8</text>
<line x1="1009.4" y1="1772.8" x2="1009.4" y2="1789.7" stroke="#000" stroke-width="2.7" />
<text x="1009.4" y="1813.8" font-size="23.4" text-anchor="middle">9</text>
<line x1="1099.8" y1="1772.8" x2="1099.8" y2="1789.7" stroke="#000" stroke-width="2.7" />
<text x="1099.8" y="1813.8" font-size="23.4" text-anchor="middle">10</text>
<line x1="1190.2" y1="1772.8" x2="1190.2" y2="1789.7" stroke="#000" stroke-width="2.7" />
<text x="1190.2" y="1813.8" font-size="23.4" text-anchor="middle">11</text>
<line x1="1280.7" y1="1772.8" x2="1280.7" y2="1789.7" stroke="#000" stroke-width="2.7" />
<text x="1280.7" y="1813.8" font-size="23.4" text-anchor="middle">12</text>
<line x1="1371.1" y1="1772.8" x2="1371.1" y2="1789.7" stroke="#000" stroke-width="2.7" />
<text x="1371.1" y="1813.8" font-size="23.4" text-anchor="middle">13</text>
<line x1="1461.5" y1="1772.8" x2="1461.5" y2="1789.7" stroke="#000" stroke-width="2.7" />
<text x="1461.5" y="1813.8" font-size="23.4" text-anchor="middle">14</text>
<line x1="1552" y1="1772.8" x2="1552" y2="1789.7" stroke="#000" stroke-width="2.7" />
<text x="1552" y="1813.8" font-size="23.4" text-anchor="middle">15</text>
<line x1="1642.4" y1="1772.8" x2="1642.4" y2="1789.7" stroke="#000" stroke-width="2.7" />
<text x="1642.4" y="1813.8" font-size="23.4" text-anchor="middle">16</text>
<line x1="1732.8" y1="1772.8" x2="1732.8" y2="1789.7" stroke="#000" stroke-width="2.7" />
<text x="1732.8" y="1813.8" font-size="23.4" text-anchor="middle">17</text>
<line x1="1823.2" y1="1772.8" x2="1823.2" y2="1789.7" stroke="#000" stroke-width="2.7" />
<text x="1823.2" y="1813.8" font-size="23.4" text-anchor="middle">18</text>
<text x="1913.7" y="1813.8" font-size="23.4" text-anchor="middle">19</text>
<text x="889" y="1844.9" font-size="23.4" font-weight="bold" textLength="241.5" lengthAdjust="spacingAndGlyphs">Time after Tx (Weeks)</text>
<text x="0" y="0" font-size="23.4" font-weight="bold" text-anchor="middle" letter-spacing="5.5" transform="translate(65.5 1397.3) rotate(-90)">Glycaemia (mg/dl)</text>
<text x="196.2" y="1757.5" font-size="22.6" textLength="33.3" lengthAdjust="spacingAndGlyphs">****</text>
<text x="239.8" y="1757.5" font-size="23.4" textLength="648.3" lengthAdjust="spacingAndGlyphs">VEP Vs DL-NPIs; **** VEPs Vs KC-NPIs; **** VEp Vs LV-NPIs</text>
<line x1="1009.4" y1="1082.2" x2="1009.4" y2="1768" stroke="#000" stroke-width="4.9" stroke-dasharray="0 12.55" stroke-linecap="round"/>
<line x1="1461.5" y1="1082.2" x2="1461.5" y2="1768" stroke="#000" stroke-width="4.9" stroke-dasharray="0 12.55" stroke-linecap="round"/>
<line x1="1823.2" y1="1082.2" x2="1823.2" y2="1768" stroke="#000" stroke-width="4.9" stroke-dasharray="0 12.55" stroke-linecap="round"/>
<path d="M195.5 1141.1L202 1145.6L208.4 1150L214.9 1154.3L221.3 1158.7L227.8 1162.9L234.3 1167L240.7 1171.1L247.2 1175L253.6 1178.7L260.1 1182.3L266.6 1185.6L273 1188.8L279.5 1191.7L285.9 1194.4L292.4 1196.8L298.8 1198.9L305.3 1200.8L311.8 1202.4L318.2 1203.7L324.7 1204.8L331.1 1205.6L337.6 1206.1L344.1 1206.3L350.5 1206.2L357 1205.9L363.4 1205.3L369.9 1204.4L376.4 1203.2L382.8 1201.8L389.3 1200.1L395.7 1198.3L402.2 1196.3L408.7 1194.3L415.1 1192.3L421.6 1190.3L428 1188.4L434.5 1186.6L441 1185L447.4 1183.7L453.9 1182.7L460.3 1182.1L466.8 1181.8L473.2 1182L479.7 1182.7L486.2 1183.8L492.6 1185.2L499.1 1187L505.5 1189.2L512 1191.7L518.5 1194.4L524.9 1197.4L531.4 1200.7L537.8 1204.1L544.3 1207.8L550.8 1211.6L557.2 1215.5L563.7 1219.5L570.1 1223.5L576.6 1227.5L583.1 1231.3L589.5 1234.9L596 1238.1L602.4 1240.9L608.9 1243.2L615.4 1244.9L621.8 1245.9L628.3 1246.1L634.7 1245.5L641.2 1243.9L647.7 1241.2L654.1 1237.5L660.6 1232.8L667 1227.3L673.5 1221.1L679.9 1214.5L686.4 1207.6L692.9 1200.4L699.3 1193.3L705.8 1186.4L712.2 1179.8L718.7 1173.7L725.2 1168.2L731.6 1163.6L738.1 1159.9L744.5 1157.4L751 1155.9L757.5 1155.4L763.9 1155.8L770.4 1157.1L776.8 1159.2L783.3 1161.9L789.8 1165.3L796.2 1169.3L802.7 1173.8L809.1 1178.6L815.6 1183.9L822.1 1189.3L828.5 1195L835 1200.8L841.4 1206.7L847.9 1212.6L854.3 1218.4L860.8 1224L867.3 1229.5L873.7 1234.8L880.2 1239.7L886.6 1244.2L893.1 1248.2L899.6 1251.8L906 1254.8L912.5 1257.1L918.9 1258.8L925.4 1259.7L931.9 1260.1L938.3 1260L944.8 1259.8L951.2 1259.5L957.7 1259.5L964.2 1259.8L970.6 1260.7L977.1 1262.3L983.5 1264.9L990 1268.6L996.5 1273.7L1002.9 1280.2L1009.4 1288.5L1015.8 1298.6L1022.3 1310.3L1028.7 1323.4L1035.2 1337.6L1041.7 1352.7L1048.1 1368.5L1054.6 1384.5L1061 1400.7L1067.5 1416.8L1074 1432.4L1080.4 1447.3L1086.9 1461.4L1093.3 1474.3L1099.8 1485.7L1106.3 1495.5L1112.7 1503.7L1119.2 1510.5L1125.6 1515.8L1132.1 1519.9L1138.6 1522.8L1145 1524.7L1151.5 1525.5L1157.9 1525.5L1164.4 1524.8L1170.9 1523.3L1177.3 1521.3L1183.8 1518.8L1190.2 1516L1196.7 1512.9L1203.1 1509.6L1209.6 1505.9L1216.1 1502.1L1222.5 1497.9L1229 1493.5L1235.4 1488.8L1241.9 1483.8L1248.4 1478.6L1254.8 1473L1261.3 1467.2L1267.7 1461.1L1274.2 1454.8L1280.7 1448.1L1287.1 1441.2L1293.6 1434.1L1300 1426.9L1306.5 1419.8L1313 1412.8L1319.4 1406.1L1325.9 1399.8L1332.3 1394L1338.8 1388.8L1345.3 1384.4L1351.7 1380.7L1358.2 1378.1L1364.6 1376.5L1371.1 1376L1377.5 1376.8L1384 1378.7L1390.5 1381.2L1396.9 1384.3L1403.4 1387.6L1409.8 1390.8L1416.3 1393.7L1422.8 1396L1429.2 1397.5L1435.7 1397.8L1442.1 1396.8L1448.6 1394.1L1455.1 1389.4L1461.5 1382.6L1468 1373.3L1474.4 1361.8L1480.9 1348.2L1487.4 1332.6L1493.8 1315.2L1500.3 1296.3L1506.7 1275.9L1513.2 1254.4L1519.7 1231.7L1526.1 1208.2L1532.6 1184L1539 1159.2L1545.5 1134.1L1552 1108.8" fill="none" stroke="#000000" stroke-width="5.2" stroke-linejoin="round"/>
<path d="M195.5 1124.5V1157.7M189 1124.5H202M189 1157.7H202" stroke="#000000" stroke-width="2.5" fill="none"/>
<circle cx="195.5" cy="1141.1" r="6.5" fill="#000000"/>
<path d="M285.9 1171V1217.8M279.4 1171H292.4M279.4 1217.8H292.4" stroke="#000000" stroke-width="2.5" fill="none"/>
<circle cx="285.9" cy="1194.4" r="6.5" fill="#000000"/>
<path d="M376.4 1162.2V1244.2M369.9 1162.2H382.9M369.9 1244.2H382.9" stroke="#000000" stroke-width="2.5" fill="none"/>
<circle cx="376.4" cy="1203.2" r="6.5" fill="#000000"/>
<path d="M466.8 1158.7V1205M460.3 1158.7H473.3M460.3 1205H473.3" stroke="#000000" stroke-width="2.5" fill="none"/>
<circle cx="466.8" cy="1181.8" r="6.5" fill="#000000"/>
<path d="M557.2 1178.1V1252.9M550.7 1178.1H563.7M550.7 1252.9H563.7" stroke="#000000" stroke-width="2.5" fill="none"/>
<circle cx="557.2" cy="1215.5" r="6.5" fill="#000000"/>
<path d="M647.7 1201.8V1280.7M641.2 1201.8H654.2M641.2 1280.7H654.2" stroke="#000000" stroke-width="2.5" fill="none"/>
<circle cx="647.7" cy="1241.2" r="6.5" fill="#000000"/>
<path d="M738.1 1129.3V1190.6M731.6 1129.3H744.6M731.6 1190.6H744.6" stroke="#000000" stroke-width="2.5" fill="none"/>
<circle cx="738.1" cy="1159.9" r="6.5" fill="#000000"/>
<path d="M828.5 1156.6V1233.4M822 1156.6H835M822 1233.4H835" stroke="#000000" stroke-width="2.5" fill="none"/>
<circle cx="828.5" cy="1195" r="6.5" fill="#000000"/>
<path d="M918.9 1206.6V1311M912.4 1206.6H925.4M912.4 1311H925.4" stroke="#000000" stroke-width="2.5" fill="none"/>
<circle cx="918.9" cy="1258.8" r="6.5" fill="#000000"/>
<path d="M1009.4 1211.1V1365.9M1002.9 1211.1H1015.9M1002.9 1365.9H1015.9" stroke="#000000" stroke-width="2.5" fill="none"/>
<circle cx="1009.4" cy="1288.5" r="6.5" fill="#000000"/>
<path d="M1099.8 1450.8V1520.6M1093.3 1450.8H1106.3M1093.3 1520.6H1106.3" stroke="#000000" stroke-width="2.5" fill="none"/>
<circle cx="1099.8" cy="1485.7" r="6.5" fill="#000000"/>
<path d="M1190.2 1452.2V1579.9M1183.7 1452.2H1196.7M1183.7 1579.9H1196.7" stroke="#000000" stroke-width="2.5" fill="none"/>
<circle cx="1190.2" cy="1516" r="6.5" fill="#000000"/>
<path d="M1280.7 1381.6V1514.6M1274.2 1381.6H1287.2M1274.2 1514.6H1287.2" stroke="#000000" stroke-width="2.5" fill="none"/>
<circle cx="1280.7" cy="1448.1" r="6.5" fill="#000000"/>
<path d="M1371.1 1315.8V1436.3M1364.6 1315.8H1377.6M1364.6 1436.3H1377.6" stroke="#000000" stroke-width="2.5" fill="none"/>
<circle cx="1371.1" cy="1376" r="6.5" fill="#000000"/>
<path d="M1461.5 1317.2V1448M1455 1317.2H1468M1455 1448H1468" stroke="#000000" stroke-width="2.5" fill="none"/>
<circle cx="1461.5" cy="1382.6" r="6.5" fill="#000000"/>
<path d="M195.5 1188.5L202 1191.8L208.4 1195.1L214.9 1198.3L221.3 1201.3L227.8 1204.1L234.3 1206.6L240.7 1208.8L247.2 1210.6L253.6 1212L260.1 1212.9L266.6 1213.2L273 1213L279.5 1212.1L285.9 1210.5L292.4 1208.2L298.8 1205.1L305.3 1201.5L311.8 1197.4L318.2 1192.9L324.7 1188L331.1 1182.9L337.6 1177.6L344.1 1172.2L350.5 1166.8L357 1161.4L363.4 1156.3L369.9 1151.3L376.4 1146.7L382.8 1142.5L389.3 1138.7L395.7 1135.3L402.2 1132.3L408.7 1129.8L415.1 1127.5L421.6 1125.7L428 1124.3L434.5 1123.2L441 1122.6L447.4 1122.3L453.9 1122.3L460.3 1122.8L466.8 1123.6L473.2 1124.7L479.7 1126.2L486.2 1127.9L492.6 1129.7L499.1 1131.8L505.5 1133.9L512 1136L518.5 1138.1L524.9 1140.1L531.4 1141.9L537.8 1143.6L544.3 1144.9L550.8 1146L557.2 1146.7L563.7 1147L570.1 1146.9L576.6 1146.4L583.1 1145.6L589.5 1144.5L596 1143L602.4 1141.3L608.9 1139.3L615.4 1137.1L621.8 1134.7L628.3 1132.1L634.7 1129.4L641.2 1126.5L647.7 1123.6L654.1 1120.6L660.6 1117.5L667 1114.4L673.5 1111.4L679.9 1108.5L686.4 1105.7L692.9 1103L699.3 1100.5L705.8 1098.3L712.2 1096.3L718.7 1094.7L725.2 1093.3L731.6 1092.4L738.1 1091.9L744.5 1091.9L751 1092.3L757.5 1093.2L763.9 1094.7L770.4 1096.7L776.8 1099.2L783.3 1102.4L789.8 1106.1L796.2 1110.5L802.7 1115.5L809.1 1121.1L815.6 1127.5L822.1 1134.5L828.5 1142.3L835 1150.8L841.4 1159.9L847.9 1169.6L854.3 1179.9L860.8 1190.6L867.3 1201.6L873.7 1212.9L880.2 1224.5L886.6 1236.2L893.1 1247.9L899.6 1259.6L906 1271.2L912.5 1282.7L918.9 1293.9L925.4 1304.8L931.9 1315.4L938.3 1325.7L944.8 1335.8L951.2 1345.6L957.7 1355.3L964.2 1364.7L970.6 1374L977.1 1383.2L983.5 1392.3L990 1401.2L996.5 1410.1L1002.9 1418.9L1009.4 1427.8" fill="none" stroke="#ff7f0e" stroke-width="5.2" stroke-linejoin="round"/>
<path d="M195.5 1153.2V1223.8M189 1153.2H202M189 1223.8H202" stroke="#ff7f0e" stroke-width="2.5" fill="none"/>
<circle cx="195.5" cy="1188.5" r="6.5" fill="#ff7f0e"/>
<path d="M285.9 1151.3V1269.7M279.4 1151.3H292.4M279.4 1269.7H292.4" stroke="#ff7f0e" stroke-width="2.5" fill="none"/>
<circle cx="285.9" cy="1210.5" r="6.5" fill="#ff7f0e"/>
<path d="M376.4 1124.9V1168.5M369.9 1124.9H382.9M369.9 1168.5H382.9" stroke="#ff7f0e" stroke-width="2.5" fill="none"/>
<circle cx="376.4" cy="1146.7" r="6.5" fill="#ff7f0e"/>
<path d="M466.8 1098.7V1148.5M460.3 1098.7H473.3M460.3 1148.5H473.3" stroke="#ff7f0e" stroke-width="2.5" fill="none"/>
<circle cx="466.8" cy="1123.6" r="6.5" fill="#ff7f0e"/>
<path d="M557.2 1134.3V1159.2M550.7 1134.3H563.7M550.7 1159.2H563.7" stroke="#ff7f0e" stroke-width="2.5" fill="none"/>
<circle cx="557.2" cy="1146.7" r="6.5" fill="#ff7f0e"/>
<path d="M647.7 1110.1V1137.1M641.2 1110.1H654.2M641.2 1137.1H654.2" stroke="#ff7f0e" stroke-width="2.5" fill="none"/>
<circle cx="647.7" cy="1123.6" r="6.5" fill="#ff7f0e"/>
<circle cx="738.1" cy="1091.9" r="6.5" fill="#ff7f0e"/>
<path d="M828.5 1109V1175.5M822 1109H835M822 1175.5H835" stroke="#ff7f0e" stroke-width="2.5" fill="none"/>
<circle cx="828.5" cy="1142.3" r="6.5" fill="#ff7f0e"/>
<path d="M918.9 1165.1V1422.7M912.4 1165.1H925.4M912.4 1422.7H925.4" stroke="#ff7f0e" stroke-width="2.5" fill="none"/>
<circle cx="918.9" cy="1293.9" r="6.5" fill="#ff7f0e"/>
<path d="M1009.4 1369.1V1486.4M1002.9 1369.1H1015.9M1002.9 1486.4H1015.9" stroke="#ff7f0e" stroke-width="2.5" fill="none"/>
<circle cx="1009.4" cy="1427.8" r="6.5" fill="#ff7f0e"/>
<path d="M195.5 1125.1L202 1133.6L208.4 1141.9L214.9 1150.2L221.3 1158.4L227.8 1166.4L234.3 1174.2L240.7 1181.7L247.2 1188.9L253.6 1195.7L260.1 1202.2L266.6 1208.2L273 1213.7L279.5 1218.7L285.9 1223.2L292.4 1227L298.8 1230.3L305.3 1233L311.8 1235.2L318.2 1237L324.7 1238.4L331.1 1239.4L337.6 1240.1L344.1 1240.5L350.5 1240.7L357 1240.7L363.4 1240.5L369.9 1240.2L376.4 1239.8L382.8 1239.4L389.3 1238.9L395.7 1238.4L402.2 1237.8L408.7 1237.2L415.1 1236.6L421.6 1235.9L428 1235.2L434.5 1234.4L441 1233.5L447.4 1232.6L453.9 1231.6L460.3 1230.6L466.8 1229.5L473.2 1228.3L479.7 1227L486.2 1225.6L492.6 1224L499.1 1222.2L505.5 1220.1L512 1217.7L518.5 1215L524.9 1211.9L531.4 1208.4L537.8 1204.4L544.3 1200L550.8 1195L557.2 1189.5L563.7 1183.4L570.1 1176.9L576.6 1169.9L583.1 1162.7L589.5 1155.3L596 1147.9L602.4 1140.6L608.9 1133.5L615.4 1126.6L621.8 1120.2L628.3 1114.3L634.7 1109L641.2 1104.5L647.7 1100.8L654.1 1098.1L660.6 1096.2L667 1095.2L673.5 1094.7L679.9 1094.9L686.4 1095.5L692.9 1096.5L699.3 1097.7L705.8 1099.2L712.2 1100.6L718.7 1102.1L725.2 1103.4L731.6 1104.5L738.1 1105.2L744.5 1105.5L751 1105.4L757.5 1105L763.9 1104.3L770.4 1103.4L776.8 1102.2L783.3 1101L789.8 1099.6L796.2 1098.2L802.7 1096.8L809.1 1095.4L815.6 1094.2L822.1 1093.1L828.5 1092.2L835 1091.6L841.4 1091.2L847.9 1090.9L854.3 1090.9L860.8 1091L867.3 1091.3L873.7 1091.6L880.2 1092L886.6 1092.5L893.1 1093L899.6 1093.5L906 1093.9L912.5 1094.4L918.9 1094.7L925.4 1094.9L931.9 1095.1L938.3 1095.2L944.8 1095.1L951.2 1095L957.7 1094.9L964.2 1094.7L970.6 1094.4L977.1 1094.1L983.5 1093.7L990 1093.3L996.5 1092.9L1002.9 1092.5L1009.4 1092.1" fill="none" stroke="#ff0000" stroke-width="5.2" stroke-linejoin="round"/>
<path d="M195.5 1109.6V1140.7M189 1109.6H202M189 1140.7H202" stroke="#ff0000" stroke-width="2.5" fill="none"/>
<circle cx="195.5" cy="1125.1" r="6.5" fill="#ff0000"/>
<path d="M285.9 1191.5V1254.8M279.4 1191.5H292.4M279.4 1254.8H292.4" stroke="#ff0000" stroke-width="2.5" fill="none"/>
<circle cx="285.9" cy="1223.2" r="6.5" fill="#ff0000"/>
<path d="M376.4 1201.9V1277.7M369.9 1201.9H382.9M369.9 1277.7H382.9" stroke="#ff0000" stroke-width="2.5" fill="none"/>
<circle cx="376.4" cy="1239.8" r="6.5" fill="#ff0000"/>
<path d="M466.8 1199.4V1259.6M460.3 1199.4H473.3M460.3 1259.6H473.3" stroke="#ff0000" stroke-width="2.5" fill="none"/>
<circle cx="466.8" cy="1229.5" r="6.5" fill="#ff0000"/>
<path d="M557.2 1152.1V1226.9M550.7 1152.1H563.7M550.7 1226.9H563.7" stroke="#ff0000" stroke-width="2.5" fill="none"/>
<circle cx="557.2" cy="1189.5" r="6.5" fill="#ff0000"/>
<path d="M647.7 1092V1109.7M641.2 1092H654.2M641.2 1109.7H654.2" stroke="#ff0000" stroke-width="2.5" fill="none"/>
<circle cx="647.7" cy="1100.8" r="6.5" fill="#ff0000"/>
<path d="M738.1 1097.9V1112.5M731.6 1097.9H744.6M731.6 1112.5H744.6" stroke="#ff0000" stroke-width="2.5" fill="none"/>
<circle cx="738.1" cy="1105.2" r="6.5" fill="#ff0000"/>
<circle cx="828.5" cy="1092.2" r="6.5" fill="#ff0000"/>
<circle cx="918.9" cy="1094.7" r="6.5" fill="#ff0000"/>
<circle cx="1009.4" cy="1092.1" r="6.5" fill="#ff0000"/>
<path d="M195.5 1146.7L202 1177.1L208.4 1207.3L214.9 1237.1L221.4 1266.4L227.9 1294.9L234.3 1322.5L240.8 1348.9L247.3 1374.1L253.7 1397.7L260.2 1419.6L266.7 1439.7L273.1 1457.7L279.6 1473.5L286.1 1486.8L292.6 1497.6L299 1506L305.5 1512.2L312 1516.5L318.4 1519L324.9 1520L331.4 1519.7L337.9 1518.4L344.3 1516.2L350.8 1513.4L357.3 1510.1L363.7 1506.7L370.2 1503.3L376.7 1500.2L383.1 1497.5L389.6 1495.2L396.1 1493.3L402.6 1491.9L409 1490.7L415.5 1489.9L422 1489.4L428.4 1489.2L434.9 1489.3L441.4 1489.5L447.9 1490L454.3 1490.6L460.8 1491.4L467.3 1492.3L473.7 1493.3L480.2 1494.4L486.7 1495.6L493.1 1496.8L499.6 1498.1L506.1 1499.5L512.6 1500.8L519 1502.3L525.5 1503.7L532 1505.1L538.4 1506.6L544.9 1508L551.4 1509.4L557.9 1510.8L564.3 1512.1L570.8 1513.3L577.3 1514.5L583.7 1515.5L590.2 1516.3L596.7 1517L603.1 1517.4L609.6 1517.5L616.1 1517.3L622.6 1516.8L629 1516L635.5 1514.8L642 1513.1L648.4 1511L654.9 1508.4L661.4 1505.4L667.9 1502.2L674.3 1498.8L680.8 1495.3L687.3 1491.8L693.7 1488.4L700.2 1485.2L706.7 1482.3L713.1 1479.8L719.6 1477.8L726.1 1476.4L732.6 1475.6L739 1475.7L745.5 1476.5L752 1478.1L758.4 1480.3L764.9 1482.9L771.4 1485.9L777.9 1489L784.3 1492.3L790.8 1495.4L797.3 1498.4L803.7 1501.1L810.2 1503.4L816.7 1505.1L823.2 1506.1L829.6 1506.2L836.1 1505.5L842.6 1504.1L849 1502L855.5 1499.5L862 1496.7L868.4 1493.8L874.9 1490.8L881.4 1488L887.9 1485.5L894.3 1483.5L900.8 1482L907.3 1481.3L913.7 1481.6L920.2 1482.8L926.7 1485.2L933.2 1488.3L939.6 1492L946.1 1495.8L952.6 1499.5L959 1502.9L965.5 1505.5L972 1507.1L978.4 1507.3L984.9 1505.9L991.4 1502.6L997.9 1497L1004.3 1488.9L1010.8 1477.9L1017.3 1463.9L1023.7 1447.1L1030.2 1427.7L1036.7 1405.9L1043.2 1382L1049.6 1356.1L1056.1 1328.5L1062.6 1299.4L1069 1269L1075.5 1237.5L1082 1205.3L1088.4 1172.4L1094.9 1139.1" fill="none" stroke="#5aa5f9" stroke-width="5.2" stroke-linejoin="round"/>
<path d="M195.5 1132.2V1161.3M189 1132.2H202M189 1161.3H202" stroke="#5aa5f9" stroke-width="2.5" fill="none"/>
<circle cx="195.5" cy="1146.7" r="6.5" fill="#5aa5f9"/>
<path d="M285.9 1471.5V1501.6M279.4 1471.5H292.4M279.4 1501.6H292.4" stroke="#5aa5f9" stroke-width="2.5" fill="none"/>
<circle cx="285.9" cy="1486.5" r="6.5" fill="#5aa5f9"/>
<path d="M376.4 1486.8V1513.8M369.9 1486.8H382.9M369.9 1513.8H382.9" stroke="#5aa5f9" stroke-width="2.5" fill="none"/>
<circle cx="376.4" cy="1500.3" r="6.5" fill="#5aa5f9"/>
<path d="M466.8 1468.9V1515.6M460.3 1468.9H473.3M460.3 1515.6H473.3" stroke="#5aa5f9" stroke-width="2.5" fill="none"/>
<circle cx="466.8" cy="1492.2" r="6.5" fill="#5aa5f9"/>
<path d="M557.2 1487.8V1533.5M550.7 1487.8H563.7M550.7 1533.5H563.7" stroke="#5aa5f9" stroke-width="2.5" fill="none"/>
<circle cx="557.2" cy="1510.6" r="6.5" fill="#5aa5f9"/>
<path d="M647.7 1497.7V1524.7M641.2 1497.7H654.2M641.2 1524.7H654.2" stroke="#5aa5f9" stroke-width="2.5" fill="none"/>
<circle cx="647.7" cy="1511.2" r="6.5" fill="#5aa5f9"/>
<path d="M738.1 1449.1V1502.1M731.6 1449.1H744.6M731.6 1502.1H744.6" stroke="#5aa5f9" stroke-width="2.5" fill="none"/>
<circle cx="738.1" cy="1475.6" r="6.5" fill="#5aa5f9"/>
<path d="M828.5 1482.9V1529.6M822 1482.9H835M822 1529.6H835" stroke="#5aa5f9" stroke-width="2.5" fill="none"/>
<circle cx="828.5" cy="1506.3" r="6.5" fill="#5aa5f9"/>
<path d="M918.9 1464.8V1500.1M912.4 1464.8H925.4M912.4 1500.1H925.4" stroke="#5aa5f9" stroke-width="2.5" fill="none"/>
<circle cx="918.9" cy="1482.5" r="6.5" fill="#5aa5f9"/>
<path d="M1009.4 1463V1498.3M1002.9 1463H1015.9M1002.9 1498.3H1015.9" stroke="#5aa5f9" stroke-width="2.5" fill="none"/>
<circle cx="1009.4" cy="1480.6" r="6.5" fill="#5aa5f9"/>
<path d="M1461.5 1513.2L1468 1511.7L1474.4 1510.3L1480.9 1508.8L1487.4 1507.3L1493.8 1505.8L1500.3 1504.4L1506.7 1502.9L1513.2 1501.5L1519.7 1500.1L1526.1 1498.7L1532.6 1497.3L1539 1495.9L1545.5 1494.5L1552 1493.2L1558.4 1491.9L1564.9 1490.6L1571.3 1489.3L1577.8 1488L1584.2 1486.8L1590.7 1485.6L1597.2 1484.4L1603.6 1483.3L1610.1 1482.2L1616.5 1481.1L1623 1480.1L1629.5 1479.1L1635.9 1478.1L1642.4 1477.2L1648.8 1476.3L1655.3 1475.5L1661.8 1474.9L1668.2 1474.4L1674.7 1474.3L1681.1 1474.4L1687.6 1474.9L1694.1 1475.8L1700.5 1477.2L1707 1479.1L1713.4 1481.6L1719.9 1484.8L1726.4 1488.6L1732.8 1493.2L1739.3 1498.5L1745.7 1504.3L1752.2 1510.4L1758.6 1516.4L1765.1 1522L1771.6 1526.9L1778 1530.9L1784.5 1533.6L1790.9 1534.8L1797.4 1534.2L1803.9 1531.5L1810.3 1526.3L1816.8 1518.4L1823.2 1507.5L1829.7 1493.4L1836.2 1476.3L1842.6 1456.3L1849.1 1433.7L1855.5 1408.8L1862 1381.7L1868.5 1352.8L1874.9 1322.2L1881.4 1290.2L1887.8 1257.1L1894.3 1223L1900.8 1188.1L1907.2 1152.9L1913.7 1117.3" fill="none" stroke="#5aa5f9" stroke-width="5.2" stroke-linejoin="round"/>
<path d="M1552 1478.6V1507.7M1545.5 1478.6H1558.5M1545.5 1507.7H1558.5" stroke="#5aa5f9" stroke-width="2.5" fill="none"/>
<circle cx="1552" cy="1493.2" r="6.5" fill="#5aa5f9"/>
<path d="M1642.4 1464.5V1489.9M1635.9 1464.5H1648.9M1635.9 1489.9H1648.9" stroke="#5aa5f9" stroke-width="2.5" fill="none"/>
<circle cx="1642.4" cy="1477.2" r="6.5" fill="#5aa5f9"/>
<path d="M1732.8 1438.1V1548.2M1726.3 1438.1H1739.3M1726.3 1548.2H1739.3" stroke="#5aa5f9" stroke-width="2.5" fill="none"/>
<circle cx="1732.8" cy="1493.2" r="6.5" fill="#5aa5f9"/>
<path d="M1823.2 1466V1549M1816.7 1466H1829.7M1816.7 1549H1829.7" stroke="#5aa5f9" stroke-width="2.5" fill="none"/>
<circle cx="1823.2" cy="1507.5" r="6.5" fill="#5aa5f9"/>
<path d="M1461.5 1382.6L1468 1381.1L1474.4 1379.8L1480.9 1378.5L1487.4 1377.3L1493.8 1376.3L1500.3 1375.6L1506.7 1375.1L1513.2 1374.9L1519.7 1375L1526.1 1375.6L1532.6 1376.6L1539 1378.1L1545.5 1380.1L1552 1382.7L1558.4 1385.9L1564.9 1389.5L1571.3 1393.6L1577.8 1397.8L1584.2 1402.2L1590.7 1406.6L1597.2 1410.9L1603.6 1414.9L1610.1 1418.5L1616.5 1421.6L1623 1424.1L1629.5 1425.8L1635.9 1426.6L1642.4 1426.4L1648.8 1425.1L1655.3 1423L1661.8 1420.1L1668.2 1416.8L1674.7 1413.3L1681.1 1409.8L1687.6 1406.5L1694.1 1403.7L1700.5 1401.5L1707 1400.3L1713.4 1400.2L1719.9 1401.5L1726.4 1404.4L1732.8 1409.2L1739.3 1415.8L1745.7 1424.2L1752.2 1433.8L1758.6 1444.2L1765.1 1455.1L1771.6 1466L1778 1476.5L1784.5 1486.2L1790.9 1494.8L1797.4 1501.8L1803.9 1506.8L1810.3 1509.4L1816.8 1509.2L1823.2 1505.7L1829.7 1498.8L1836.2 1488.5L1842.6 1475.2L1849.1 1459L1855.5 1440.2L1862 1419.1L1868.5 1395.9L1874.9 1370.9L1881.4 1344.4L1887.8 1316.5L1894.3 1287.7L1900.8 1258.1L1907.2 1227.9L1913.7 1197.5" fill="none" stroke="#000000" stroke-width="5.2" stroke-linejoin="round"/>
<path d="M1552 1334.9V1430.5M1545.5 1334.9H1558.5M1545.5 1430.5H1558.5" stroke="#000000" stroke-width="2.5" fill="none"/>
<circle cx="1552" cy="1382.7" r="6.5" fill="#000000"/>
<path d="M1642.4 1314.8V1538M1635.9 1314.8H1648.9M1635.9 1538H1648.9" stroke="#000000" stroke-width="2.5" fill="none"/>
<circle cx="1642.4" cy="1426.4" r="6.5" fill="#000000"/>
<path d="M1732.8 1355.7V1462.6M1726.3 1355.7H1739.3M1726.3 1462.6H1739.3" stroke="#000000" stroke-width="2.5" fill="none"/>
<circle cx="1732.8" cy="1409.2" r="6.5" fill="#000000"/>
<path d="M1823.2 1470.4V1541.1M1816.7 1470.4H1829.7M1816.7 1541.1H1829.7" stroke="#000000" stroke-width="2.5" fill="none"/>
<circle cx="1823.2" cy="1505.7" r="6.5" fill="#000000"/>
<path d="M1913.7 1187.6V1207.4M1907.2 1187.6H1920.2M1907.2 1207.4H1920.2" stroke="#000000" stroke-width="2.5" fill="none"/>
<circle cx="1913.7" cy="1197.5" r="6.5" fill="#000000"/>
<path d="M1009.4 1480.6L1015.8 1479.1L1022.3 1477.6L1028.7 1476.2L1035.2 1474.8L1041.7 1473.5L1048.1 1472.2L1054.6 1471L1061 1469.9L1067.5 1468.9L1074 1468.1L1080.4 1467.4L1086.9 1466.8L1093.3 1466.5L1099.8 1466.3L1106.3 1466.3L1112.7 1466.5L1119.2 1466.8L1125.6 1467.3L1132.1 1467.8L1138.6 1468.4L1145 1469.1L1151.5 1469.8L1157.9 1470.5L1164.4 1471.2L1170.9 1471.8L1177.3 1472.4L1183.8 1472.8L1190.2 1473.1L1196.7 1473.3L1203.1 1473.3L1209.6 1473.2L1216.1 1473L1222.5 1472.6L1229 1472.1L1235.4 1471.5L1241.9 1470.8L1248.4 1470L1254.8 1469L1261.3 1468L1267.7 1466.9L1274.2 1465.8L1280.7 1464.5L1287.1 1463.2L1293.6 1461.9L1300 1460.7L1306.5 1459.7L1313 1459L1319.4 1458.5L1325.9 1458.5L1332.3 1459L1338.8 1460.1L1345.3 1461.9L1351.7 1464.4L1358.2 1467.7L1364.6 1472L1371.1 1477.2L1377.5 1483.4L1384 1490.4L1390.5 1497.8L1396.9 1505.3L1403.4 1512.5L1409.8 1519.2L1416.3 1525L1422.8 1529.6L1429.2 1532.7L1435.7 1533.8L1442.1 1532.8L1448.6 1529.2L1455.1 1522.8L1461.5 1513.2L1468 1500.2L1474.4 1484L1480.9 1464.7L1487.4 1442.7L1493.8 1418.1L1500.3 1391.3L1506.7 1362.6L1513.2 1332L1519.7 1300L1526.1 1266.7L1532.6 1232.4L1539 1197.3L1545.5 1161.8L1552 1126" fill="none" stroke="#5aa5f9" stroke-width="5.2" stroke-linejoin="round"/>
<path d="M1099.8 1450.4V1482.2M1093.3 1450.4H1106.3M1093.3 1482.2H1106.3" stroke="#5aa5f9" stroke-width="2.5" fill="none"/>
<circle cx="1099.8" cy="1466.3" r="6.5" fill="#5aa5f9"/>
<path d="M1190.2 1443V1503.2M1183.7 1443H1196.7M1183.7 1503.2H1196.7" stroke="#5aa5f9" stroke-width="2.5" fill="none"/>
<circle cx="1190.2" cy="1473.1" r="6.5" fill="#5aa5f9"/>
<path d="M1280.7 1448.4V1480.6M1274.2 1448.4H1287.2M1274.2 1480.6H1287.2" stroke="#5aa5f9" stroke-width="2.5" fill="none"/>
<circle cx="1280.7" cy="1464.5" r="6.5" fill="#5aa5f9"/>
<path d="M1371.1 1460V1494.3M1364.6 1460H1377.6M1364.6 1494.3H1377.6" stroke="#5aa5f9" stroke-width="2.5" fill="none"/>
<circle cx="1371.1" cy="1477.2" r="6.5" fill="#5aa5f9"/>
<path d="M1461.5 1497.1V1529.3M1455 1497.1H1468M1455 1529.3H1468" stroke="#5aa5f9" stroke-width="2.5" fill="none"/>
<circle cx="1461.5" cy="1513.2" r="6.5" fill="#5aa5f9"/>
<path d="M1099.8 1107.7V1120.1M1093.3 1107.7H1106.3M1093.3 1120.1H1106.3" stroke="#5aa5f9" stroke-width="2.5" fill="none"/>
<circle cx="1099.8" cy="1113.9" r="6.5" fill="#5aa5f9"/>
<path d="M1552 1107.3V1144.7M1545.5 1107.3H1558.5M1545.5 1144.7H1558.5" stroke="#5aa5f9" stroke-width="2.5" fill="none"/>
<circle cx="1552" cy="1126" r="6.5" fill="#5aa5f9"/>
<path d="M1913.7 1107V1127.7M1907.2 1107H1920.2M1907.2 1127.7H1920.2" stroke="#5aa5f9" stroke-width="2.5" fill="none"/>
<circle cx="1913.7" cy="1117.3" r="6.5" fill="#5aa5f9"/>
<path d="M1497.7 1304L1504.5 1283.2L1511.3 1260.9L1518 1237.5L1524.8 1213L1531.6 1187.6L1538.4 1161.7L1545.2 1135.4L1552 1108.8" fill="none" stroke="#000000" stroke-width="5.2" stroke-linejoin="round"/>
<circle cx="1099.8" cy="1485.7" r="6.5" fill="#000000"/>
<circle cx="1190.2" cy="1516" r="6.5" fill="#000000"/>
<circle cx="1280.7" cy="1448.1" r="6.5" fill="#000000"/>
<circle cx="1371.1" cy="1376" r="6.5" fill="#000000"/>
<circle cx="1552" cy="1108.8" r="6.5" fill="#000000"/>
<text x="1121.6" y="1122" font-size="36" stroke="#000" stroke-width="0.8">#</text>
<text x="1578" y="1122" font-size="36" stroke="#000" stroke-width="0.8">#</text>
<text x="1934.7" y="1122" font-size="36" stroke="#000" stroke-width="0.8">#</text>
</g>
<g id="panelC">
<text x="8" y="1902.8" font-size="23.5" font-weight="bold">C</text>
<line x1="89" y1="1948.7" x2="112.4" y2="1948.7" stroke="#ff0000" stroke-width="4.6" />
<circle cx="100.7" cy="1948.7" r="6.6" fill="#ff0000"/>
<text x="125.5" y="1956.6" font-size="23.6" font-style="italic" textLength="90" lengthAdjust="spacingAndGlyphs">DL-NPIs</text>
<line x1="228.1" y1="1948.7" x2="251.5" y2="1948.7" stroke="#ff7f0e" stroke-width="4.6" />
<circle cx="239.8" cy="1948.7" r="6.6" fill="#ff7f0e"/>
<text x="267" y="1956.6" font-size="23.6" font-style="italic" textLength="88" lengthAdjust="spacingAndGlyphs">LV-NPIs</text>
<line x1="374.7" y1="1948.7" x2="398.1" y2="1948.7" stroke="#000000" stroke-width="4.6" />
<circle cx="386.4" cy="1948.7" r="6.6" fill="#000000"/>
<text x="411.2" y="1956.6" font-size="23.6" font-style="italic" textLength="91.4" lengthAdjust="spacingAndGlyphs">KC-NPIs</text>
<line x1="521.3" y1="1948.7" x2="544.7" y2="1948.7" stroke="#5aa5f9" stroke-width="4.6" />
<circle cx="533" cy="1948.7" r="6.6" fill="#5aa5f9"/>
<text x="558.3" y="1956.6" font-size="23.6" font-style="italic" textLength="58.6" lengthAdjust="spacingAndGlyphs">VEPs</text>
<path d="M89 1996.2V2333" stroke="#000" stroke-width="2.4" fill="none"/>
<line x1="79.6" y1="2331.8" x2="89" y2="2331.8" stroke="#000" stroke-width="2.4" />
<text x="73.3" y="2340.1" font-size="23.4" text-anchor="end">0</text>
<line x1="79.6" y1="2264.9" x2="89" y2="2264.9" stroke="#000" stroke-width="2.4" />
<text x="73.3" y="2273.2" font-size="23.4" text-anchor="end">20</text>
<line x1="79.6" y1="2198" x2="89" y2="2198" stroke="#000" stroke-width="2.4" />
<text x="73.3" y="2206.3" font-size="23.4" text-anchor="end">40</text>
<line x1="79.6" y1="2131.2" x2="89" y2="2131.2" stroke="#000" stroke-width="2.4" />
<text x="73.3" y="2139.5" font-size="23.4" text-anchor="end">60</text>
<line x1="79.6" y1="2064.3" x2="89" y2="2064.3" stroke="#000" stroke-width="2.4" />
<text x="73.3" y="2072.6" font-size="23.4" text-anchor="end">80</text>
<line x1="79.6" y1="1997.4" x2="89" y2="1997.4" stroke="#000" stroke-width="2.4" />
<text x="73.3" y="2005.7" font-size="23.4" text-anchor="end">100</text>
<path d="M124.1 2394V2380.5H561.1V2394" stroke="#000" stroke-width="2.4" fill="none"/>
<text x="123.5" y="2415" font-size="23.4" text-anchor="middle">0</text>
<line x1="233.3" y1="2380.5" x2="233.3" y2="2394" stroke="#000" stroke-width="2.4" />
<text x="231.5" y="2415" font-size="23.4" text-anchor="middle">20</text>
<line x1="342.6" y1="2380.5" x2="342.6" y2="2394" stroke="#000" stroke-width="2.4" />
<text x="340.8" y="2415" font-size="23.4" text-anchor="middle">40</text>
<line x1="451.9" y1="2380.5" x2="451.9" y2="2394" stroke="#000" stroke-width="2.4" />
<text x="450.1" y="2415" font-size="23.4" text-anchor="middle">60</text>
<text x="559.3" y="2415" font-size="23.4" text-anchor="middle">80</text>
<text x="200.5" y="2454" font-size="23.4" font-weight="bold" textLength="221" lengthAdjust="spacingAndGlyphs">Time after TX (days)</text>
<text x="0" y="0" font-size="23.4" font-weight="bold" text-anchor="middle" letter-spacing="2.4" transform="translate(17.5 2174.8) rotate(-90)">Glycemia &lt; 200 mg/dl (%)</text>
<path d="M124.1 2331.8L397.2 2331.8L397.2 2220.1L451.9 2220.1" fill="none" stroke="#ff7f0e" stroke-width="4.6" stroke-linejoin="round"/>
<circle cx="288" cy="2331.8" r="5.8" fill="#ff7f0e"/>
<circle cx="451.9" cy="2220.1" r="5.8" fill="#ff7f0e"/>
<path d="M124.1 2331.8L184.2 2331.8L184.2 2295L446.4 2295L446.4 2244.9L479.2 2244.9L479.2 2162.6L511.9 2162.6L511.9 2080L544.7 2080" fill="none" stroke="#000000" stroke-width="4.6" stroke-linejoin="round"/>
<circle cx="386.3" cy="2296.4" r="5.6" fill="#000000"/>
<circle cx="392.9" cy="2296.4" r="5.6" fill="#000000"/>
<circle cx="451.9" cy="2244.9" r="5.6" fill="#000000"/>
<circle cx="468.2" cy="2244.9" r="5.6" fill="#000000"/>
<circle cx="544.7" cy="2080" r="5.6" fill="#000000"/>
<path d="M124.1 2331.8L212 2331.8L212 2290L468.2 2290" fill="none" stroke="#ff0000" stroke-width="4.6" stroke-linejoin="round"/>
<circle cx="249.7" cy="2290" r="6.6" fill="#ff0000"/>
<circle cx="261.2" cy="2290" r="6.6" fill="#ff0000"/>
<circle cx="380.8" cy="2290" r="6.6" fill="#ff0000"/>
<circle cx="451.9" cy="2290" r="6.6" fill="#ff0000"/>
<circle cx="468.2" cy="2290" r="6.6" fill="#ff0000"/>
<path d="M124.1 2331.8L135 2331.8L135 2264.9L140.5 2264.9L140.5 2164.6L145.9 2164.6L145.9 2147.9L151.4 2147.9L151.4 2097.7L156.9 2097.7L156.9 2081L173.3 2081L173.3 2064.3L178.7 2064.3L178.7 2047.6L195.1 2047.6L195.1 2030.8L206 2030.8L206 2014.1L233.3 2014.1L233.3 1997.4" fill="none" stroke="#5aa5f9" stroke-width="4.6" stroke-linejoin="round"/>
<path d="M558.3 1998.8H575.2V2080.8H558.3" fill="none" stroke="#000" stroke-width="1.3"/>
<text x="586.4" y="2056.5" font-size="26" font-weight="bold" textLength="41.2" lengthAdjust="spacingAndGlyphs">****</text>
<path d="M636 1998.8H653.4V2218H636" fill="none" stroke="#000" stroke-width="1.3"/>
<text x="661.8" y="2121.5" font-size="26" font-weight="bold" textLength="30.5" lengthAdjust="spacingAndGlyphs">***</text>
<path d="M699.3 1998.8H716.6V2293H699.3" fill="none" stroke="#000" stroke-width="1.3"/>
<text x="727.4" y="2155.5" font-size="26" font-weight="bold" textLength="40.7" lengthAdjust="spacingAndGlyphs">****</text>
</g>
<g id="panelD">
<text x="804.5" y="1906" font-size="23.5" font-weight="bold">D</text>
<line x1="928.7" y1="1945" x2="951.7" y2="1945" stroke="#ff0000" stroke-width="4.6" />
<circle cx="940.2" cy="1945" r="6.8" fill="#ff0000"/>
<text x="965.5" y="1953.5" font-size="23.6" font-style="italic" textLength="88.5" lengthAdjust="spacingAndGlyphs">DL-NPIs</text>
<line x1="1066.5" y1="1945" x2="1089.5" y2="1945" stroke="#ff7f0e" stroke-width="4.6" />
<path d="M1071 1940.2h14l-7 11.5z" fill="#ff7f0e"/>
<text x="1102.5" y="1953.5" font-size="23.6" font-style="italic" textLength="87.3" lengthAdjust="spacingAndGlyphs">LV-NPIs</text>
<line x1="1202.7" y1="1945" x2="1225.7" y2="1945" stroke="#000000" stroke-width="4.6" />
<circle cx="1214.2" cy="1945" r="6.8" fill="#000000"/>
<text x="1239.5" y="1953.5" font-size="23.6" font-style="italic" textLength="90.7" lengthAdjust="spacingAndGlyphs">KC-NPIs</text>
<line x1="1341.9" y1="1945" x2="1364.9" y2="1945" stroke="#5aa5f9" stroke-width="4.6" />
<circle cx="1353.4" cy="1945" r="6.8" fill="#5aa5f9"/>
<text x="1378.7" y="1953.5" font-size="23.6" font-style="italic" textLength="58.1" lengthAdjust="spacingAndGlyphs">VEPs</text>
<path d="M877.8 1989V2367" stroke="#000" stroke-width="2.4" fill="none"/>
<line x1="870" y1="2365.8" x2="877.8" y2="2365.8" stroke="#000" stroke-width="2.4" />
<text x="869.5" y="2374.1" font-size="23.4" text-anchor="end">0</text>
<line x1="870" y1="2303.2" x2="877.8" y2="2303.2" stroke="#000" stroke-width="2.4" />
<text x="869.5" y="2311.5" font-size="23.4" text-anchor="end">100</text>
<line x1="870" y1="2240.6" x2="877.8" y2="2240.6" stroke="#000" stroke-width="2.4" />
<text x="869.5" y="2248.9" font-size="23.4" text-anchor="end">200</text>
<line x1="870" y1="2178" x2="877.8" y2="2178" stroke="#000" stroke-width="2.4" />
<text x="869.5" y="2186.3" font-size="23.4" text-anchor="end">300</text>
<line x1="870" y1="2115.4" x2="877.8" y2="2115.4" stroke="#000" stroke-width="2.4" />
<text x="869.5" y="2123.7" font-size="23.4" text-anchor="end">400</text>
<line x1="870" y1="2052.8" x2="877.8" y2="2052.8" stroke="#000" stroke-width="2.4" />
<text x="869.5" y="2061.1" font-size="23.4" text-anchor="end">500</text>
<line x1="870" y1="1990.2" x2="877.8" y2="1990.2" stroke="#000" stroke-width="2.4" />
<text x="869.5" y="1998.5" font-size="23.4" text-anchor="end">600</text>
<line x1="898.9" y1="2386.4" x2="1500" y2="2386.4" stroke="#000" stroke-width="2.4" />
<line x1="941.9" y1="2386.4" x2="941.9" y2="2393" stroke="#000" stroke-width="2.4" />
<text x="0" y="0" font-size="22.5" text-anchor="end" transform="translate(950.4 2411.9) rotate(-45)">0</text>
<line x1="1027.9" y1="2386.4" x2="1027.9" y2="2393" stroke="#000" stroke-width="2.4" />
<text x="0" y="0" font-size="22.5" text-anchor="end" transform="translate(1036.4 2411.9) rotate(-45)">10</text>
<line x1="1113.9" y1="2386.4" x2="1113.9" y2="2393" stroke="#000" stroke-width="2.4" />
<text x="0" y="0" font-size="22.5" text-anchor="end" transform="translate(1122.4 2411.9) rotate(-45)">20</text>
<line x1="1199.7" y1="2386.4" x2="1199.7" y2="2393" stroke="#000" stroke-width="2.4" />
<text x="0" y="0" font-size="22.5" text-anchor="end" transform="translate(1208.2 2411.9) rotate(-45)">30</text>
<line x1="1285.9" y1="2386.4" x2="1285.9" y2="2393" stroke="#000" stroke-width="2.4" />
<text x="0" y="0" font-size="22.5" text-anchor="end" transform="translate(1294.4 2411.9) rotate(-45)">60</text>
<line x1="1371.9" y1="2386.4" x2="1371.9" y2="2393" stroke="#000" stroke-width="2.4" />
<text x="0" y="0" font-size="22.5" text-anchor="end" transform="translate(1380.4 2411.9) rotate(-45)">90</text>
<line x1="1457.6" y1="2386.4" x2="1457.6" y2="2393" stroke="#000" stroke-width="2.4" />
<text x="0" y="0" font-size="22.5" text-anchor="end" transform="translate(1466.1 2411.9) rotate(-45)">120</text>
<text x="1192.3" y="2460.2" font-size="22.4" font-weight="bold" text-anchor="middle">Time (min)</text>
<text x="0" y="0" font-size="22.4" font-weight="bold" text-anchor="middle" transform="translate(816.5 2174.6) rotate(-90)">Glycemia (mg/dL)</text>
<path d="M941.9 2223.1V2273.2M937.2 2223.1H946.6M937.2 2273.2H946.6" stroke="#ff7f0e" stroke-width="2.7" fill="none"/>
<path d="M1027.9 2119.6V2202.2M1023.2 2119.6H1032.6M1023.2 2202.2H1032.6" stroke="#ff7f0e" stroke-width="2.7" fill="none"/>
<path d="M1113.9 2031.5V2113.3M1109.2 2031.5H1118.6M1109.2 2113.3H1118.6" stroke="#ff7f0e" stroke-width="2.7" fill="none"/>
<path d="M1199.7 2027.4V2102.1M1195 2027.4H1204.4M1195 2102.1H1204.4" stroke="#ff7f0e" stroke-width="2.7" fill="none"/>
<path d="M1285.9 2102.3V2177.4M1281.2 2102.3H1290.6M1281.2 2177.4H1290.6" stroke="#ff7f0e" stroke-width="2.7" fill="none"/>
<path d="M1371.9 2159V2251.3M1367.2 2159H1376.6M1367.2 2251.3H1376.6" stroke="#ff7f0e" stroke-width="2.7" fill="none"/>
<path d="M1457.6 2171.1V2271.3M1452.9 2171.1H1462.3M1452.9 2271.3H1462.3" stroke="#ff7f0e" stroke-width="2.7" fill="none"/>
<path d="M941.9 2248.2L1027.9 2160.9L1113.9 2072.4L1199.7 2064.8L1285.9 2139.8L1371.9 2205.2L1457.6 2221.2" fill="none" stroke="#ff7f0e" stroke-width="4.8" stroke-linejoin="round"/>
<path d="M934.6 2243.6h14.6l-7.3 12z" fill="#ff7f0e"/>
<path d="M1020.6 2156.3h14.6l-7.3 12z" fill="#ff7f0e"/>
<path d="M1106.6 2067.8h14.6l-7.3 12z" fill="#ff7f0e"/>
<path d="M1192.4 2060.2h14.6l-7.3 12z" fill="#ff7f0e"/>
<path d="M1278.6 2135.2h14.6l-7.3 12z" fill="#ff7f0e"/>
<path d="M1364.6 2200.6h14.6l-7.3 12z" fill="#ff7f0e"/>
<path d="M1450.3 2216.6h14.6l-7.3 12z" fill="#ff7f0e"/>
<path d="M941.9 2031.4V2176.6M937.2 2031.4H946.6M937.2 2176.6H946.6" stroke="#000000" stroke-width="2.7" fill="none"/>
<path d="M1027.9 2008V2069.3M1023.2 2008H1032.6M1023.2 2069.3H1032.6" stroke="#000000" stroke-width="2.7" fill="none"/>
<path d="M1113.9 1992.1V2032.1M1109.2 1992.1H1118.6M1109.2 2032.1H1118.6" stroke="#000000" stroke-width="2.7" fill="none"/>
<path d="M1199.7 1992V2126.6M1195 1992H1204.4M1195 2126.6H1204.4" stroke="#000000" stroke-width="2.7" fill="none"/>
<path d="M1285.9 2019.5V2152.2M1281.2 2019.5H1290.6M1281.2 2152.2H1290.6" stroke="#000000" stroke-width="2.7" fill="none"/>
<path d="M1371.9 2019.7V2148.6M1367.2 2019.7H1376.6M1367.2 2148.6H1376.6" stroke="#000000" stroke-width="2.7" fill="none"/>
<path d="M1457.6 2044.5V2190.4M1452.9 2044.5H1462.3M1452.9 2190.4H1462.3" stroke="#000000" stroke-width="2.7" fill="none"/>
<path d="M941.9 2104L1027.9 2038.7L1113.9 2012.1L1199.7 2059.3L1285.9 2085.9L1371.9 2084.2L1457.6 2117.5" fill="none" stroke="#000000" stroke-width="4.8" stroke-linejoin="round"/>
<circle cx="941.9" cy="2104" r="6.9" fill="#000000"/>
<circle cx="1027.9" cy="2038.7" r="6.9" fill="#000000"/>
<circle cx="1113.9" cy="2012.1" r="6.9" fill="#000000"/>
<circle cx="1199.7" cy="2059.3" r="6.9" fill="#000000"/>
<circle cx="1285.9" cy="2085.9" r="6.9" fill="#000000"/>
<circle cx="1371.9" cy="2084.2" r="6.9" fill="#000000"/>
<circle cx="1457.6" cy="2117.5" r="6.9" fill="#000000"/>
<path d="M941.9 2026.5V2101.6M937.2 2026.5H946.6M937.2 2101.6H946.6" stroke="#ff0000" stroke-width="2.7" fill="none"/>
<path d="M1027.9 2007.9V2056.7M1023.2 2007.9H1032.6M1023.2 2056.7H1032.6" stroke="#ff0000" stroke-width="2.7" fill="none"/>
<path d="M1457.6 2032.1V2060.3M1452.9 2032.1H1462.3M1452.9 2060.3H1462.3" stroke="#ff0000" stroke-width="2.7" fill="none"/>
<path d="M941.9 2064.1L1027.9 2032.3L1113.9 1991L1199.7 1990.5L1285.9 1990.5L1371.9 1990.5L1457.6 2046.2" fill="none" stroke="#ff0000" stroke-width="4.8" stroke-linejoin="round"/>
<circle cx="941.9" cy="2064.1" r="6.9" fill="#ff0000"/>
<circle cx="1027.9" cy="2032.3" r="6.9" fill="#ff0000"/>
<circle cx="1113.9" cy="1991" r="6.9" fill="#ff0000"/>
<circle cx="1199.7" cy="1990.5" r="6.9" fill="#ff0000"/>
<circle cx="1285.9" cy="1990.5" r="6.9" fill="#ff0000"/>
<circle cx="1371.9" cy="1990.5" r="6.9" fill="#ff0000"/>
<circle cx="1457.6" cy="2046.2" r="6.9" fill="#ff0000"/>
<path d="M941.9 2233.6V2293.1M937.2 2233.6H946.6M937.2 2293.1H946.6" stroke="#5aa5f9" stroke-width="2.7" fill="none"/>
<path d="M1027.9 2107.9V2208M1023.2 2107.9H1032.6M1023.2 2208H1032.6" stroke="#5aa5f9" stroke-width="2.7" fill="none"/>
<path d="M1113.9 2046.3V2138.9M1109.2 2046.3H1118.6M1109.2 2138.9H1118.6" stroke="#5aa5f9" stroke-width="2.7" fill="none"/>
<path d="M1199.7 2081.5V2189.8M1195 2081.5H1204.4M1195 2189.8H1204.4" stroke="#5aa5f9" stroke-width="2.7" fill="none"/>
<path d="M1285.9 2145.6V2252.1M1281.2 2145.6H1290.6M1281.2 2252.1H1290.6" stroke="#5aa5f9" stroke-width="2.7" fill="none"/>
<path d="M1371.9 2203.9V2289.1M1367.2 2203.9H1376.6M1367.2 2289.1H1376.6" stroke="#5aa5f9" stroke-width="2.7" fill="none"/>
<path d="M1457.6 2243.5V2311.1M1452.9 2243.5H1462.3M1452.9 2311.1H1462.3" stroke="#5aa5f9" stroke-width="2.7" fill="none"/>
<path d="M941.9 2263.3L1027.9 2158L1113.9 2092.6L1199.7 2135.6L1285.9 2198.8L1371.9 2246.5L1457.6 2277.3" fill="none" stroke="#5aa5f9" stroke-width="4.8" stroke-linejoin="round"/>
<circle cx="941.9" cy="2263.3" r="6.9" fill="#5aa5f9"/>
<circle cx="1027.9" cy="2158" r="6.9" fill="#5aa5f9"/>
<circle cx="1113.9" cy="2092.6" r="6.9" fill="#5aa5f9"/>
<circle cx="1199.7" cy="2135.6" r="6.9" fill="#5aa5f9"/>
<circle cx="1285.9" cy="2198.8" r="6.9" fill="#5aa5f9"/>
<circle cx="1371.9" cy="2246.5" r="6.9" fill="#5aa5f9"/>
<circle cx="1457.6" cy="2277.3" r="6.9" fill="#5aa5f9"/>
</g>
<g id="panelE">
<text x="1510.5" y="1902.8" font-size="23.5" font-weight="bold">E</text>
<path d="M1621.4 1950.7V2350.1" stroke="#000" stroke-width="2.4" fill="none"/>
<line x1="1605.3" y1="2348.9" x2="1621.4" y2="2348.9" stroke="#000" stroke-width="2.4" />
<text x="1601.5" y="2357.5" font-size="24" text-anchor="end">0</text>
<line x1="1605.3" y1="2249.7" x2="1621.4" y2="2249.7" stroke="#000" stroke-width="2.4" />
<text x="1601.5" y="2258.2" font-size="24" text-anchor="end">1000</text>
<line x1="1605.3" y1="2150.4" x2="1621.4" y2="2150.4" stroke="#000" stroke-width="2.4" />
<text x="1601.5" y="2159" font-size="24" text-anchor="end">2000</text>
<line x1="1605.3" y1="2051.2" x2="1621.4" y2="2051.2" stroke="#000" stroke-width="2.4" />
<text x="1601.5" y="2059.8" font-size="24" text-anchor="end">3000</text>
<line x1="1605.3" y1="1951.9" x2="1621.4" y2="1951.9" stroke="#000" stroke-width="2.4" />
<text x="1601.5" y="1960.5" font-size="24" text-anchor="end">4000</text>
<text x="0" y="0" font-size="25" font-weight="bold" text-anchor="middle" letter-spacing="4.3" transform="translate(1529.3 2152.3) rotate(-90)">AUC</text>
<line x1="1660.5" y1="2389" x2="1958" y2="2389" stroke="#000" stroke-width="2.4" />
<line x1="1706.3" y1="2389" x2="1706.3" y2="2404.4" stroke="#000" stroke-width="2.4" />
<text x="0" y="0" font-size="22.8" font-style="italic" text-anchor="end" letter-spacing="4.2" stroke="#000" stroke-width="0.3" transform="translate(1717.3 2419) rotate(-45)">DL-NPIs</text>
<line x1="1774.2" y1="2389" x2="1774.2" y2="2404.4" stroke="#000" stroke-width="2.4" />
<text x="0" y="0" font-size="22.8" font-style="italic" text-anchor="end" letter-spacing="4.2" stroke="#000" stroke-width="0.3" transform="translate(1785.2 2419) rotate(-45)">KC-NPIs</text>
<line x1="1842.5" y1="2389" x2="1842.5" y2="2404.4" stroke="#000" stroke-width="2.4" />
<text x="0" y="0" font-size="22.8" font-style="italic" text-anchor="end" letter-spacing="4.2" stroke="#000" stroke-width="0.3" transform="translate(1853.5 2419) rotate(-45)">LV-NIPs</text>
<line x1="1910.7" y1="2389" x2="1910.7" y2="2404.4" stroke="#000" stroke-width="2.4" />
<text x="0" y="0" font-size="22.8" font-style="italic" text-anchor="end" letter-spacing="4.2" stroke="#000" stroke-width="0.3" transform="translate(1915.2 2424) rotate(-45)">VEPs</text>
<rect x="1686.3" y="2011.1" width="40" height="338.1" fill="#ff4343" stroke="#ff0000" stroke-width="4.4" stroke-linejoin="round"/>
<rect x="1754.2" y="2065.4" width="40" height="283.8" fill="#404040" stroke="#000000" stroke-width="4.4" stroke-linejoin="round"/>
<rect x="1822.5" y="2144.3" width="40" height="204.9" fill="#fdd1a3" stroke="#ff6a08" stroke-width="4.4" stroke-linejoin="round"/>
<rect x="1888.8" y="2177" width="43.8" height="172.2" fill="#80b9fb" stroke="#5aa5f9" stroke-width="1.4" stroke-linejoin="round"/>
<path d="M1706.3 1995V2022.3M1695.3 1995H1717.3M1695.3 2022.3H1717.3" stroke="#ff0000" stroke-width="2.4" fill="none"/>
<path d="M1774.2 1974.9V2151.5M1763.2 1974.9H1785.2M1763.2 2151.5H1785.2" stroke="#000" stroke-width="2.6" fill="none"/>
<path d="M1842.5 2078.4V2204.5M1831.5 2078.4H1853.5M1831.5 2204.5H1853.5" stroke="#ff7f0e" stroke-width="2.6" fill="none"/>
<path d="M1910.7 2079.9V2271.9M1899.7 2079.9H1921.7M1899.7 2271.9H1921.7" stroke="#5aa5f9" stroke-width="2.6" fill="none"/>
<circle cx="1706.3" cy="1993.7" r="5.7" fill="#ff8a8a"/>
<circle cx="1723.6" cy="2011" r="5.7" fill="#ff8a8a"/>
<circle cx="1689.6" cy="2021" r="5.7" fill="#ff8a8a"/>
<circle cx="1774.2" cy="1991.9" r="5.7" fill="#000"/>
<circle cx="1774.2" cy="2035.9" r="5.7" fill="#000"/>
<circle cx="1774.2" cy="2162.1" r="5.7" fill="#000"/>
<path d="M1836.3 2071.2h12.4l-6.2 10.6z" fill="#ff7f0e"/>
<path d="M1836.3 2137.7h12.4l-6.2 10.6z" fill="#ff7f0e"/>
<path d="M1836.3 2197.7h12.4l-6.2 10.6z" fill="#ff7f0e"/>
<circle cx="1910.7" cy="2058" r="5.9" fill="#5aa5f9"/>
<circle cx="1910.7" cy="2102.9" r="5.9" fill="#5aa5f9"/>
<circle cx="1910.7" cy="2185.4" r="5.9" fill="#5aa5f9"/>
<circle cx="1910.7" cy="2246.7" r="5.9" fill="#5aa5f9"/>
<circle cx="1910.7" cy="2288" r="5.9" fill="#5aa5f9"/>
<path d="M1706.8 1961.6V1945.8M1706.8 1953.6H1915.2M1915.2 1945.8V1961.6" fill="none" stroke="#000" stroke-width="2.2"/>
<text x="1815.5" y="1952" font-size="26" font-weight="bold" text-anchor="middle">*</text>
</g>
</svg></body></html>
